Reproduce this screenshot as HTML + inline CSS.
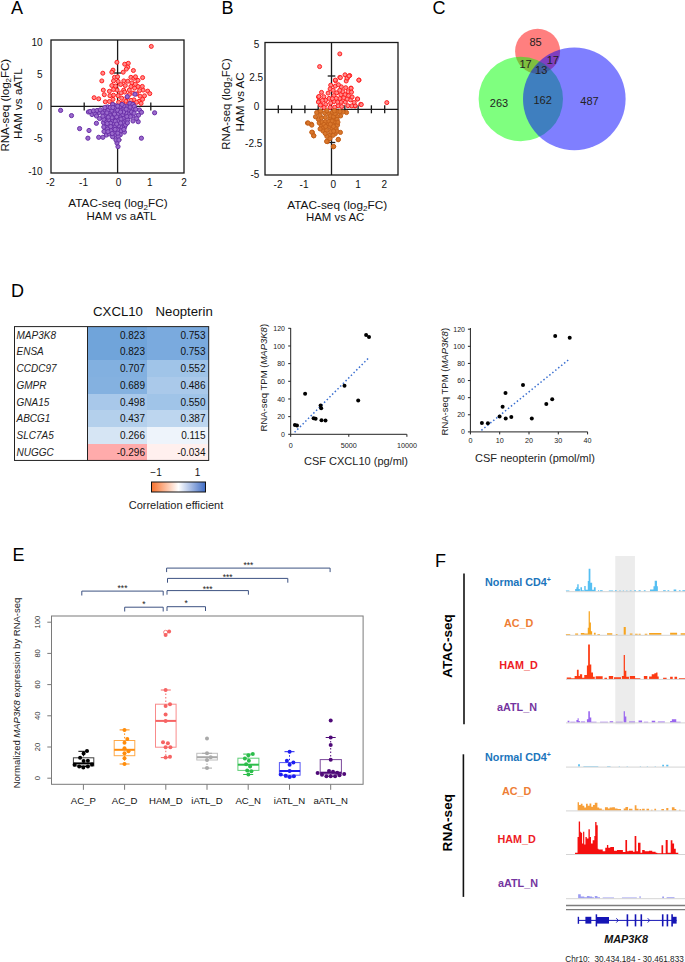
<!DOCTYPE html>
<html><head><meta charset="utf-8"><style>
html,body{margin:0;padding:0;background:#fff;width:685px;height:962px;overflow:hidden}
svg{display:block}
text{font-family:"Liberation Sans",sans-serif}
</style></head><body>
<svg width="685" height="962" viewBox="0 0 685 962">
<rect x="0" y="0" width="685" height="962" fill="#fff"/>
<text x="11.0" y="14.2" font-size="18" text-anchor="start" fill="#000" font-weight="normal" font-style="normal" >A</text>
<text x="221.5" y="13.8" font-size="18" text-anchor="start" fill="#000" font-weight="normal" font-style="normal" >B</text>
<text x="432.5" y="14.0" font-size="18" text-anchor="start" fill="#000" font-weight="normal" font-style="normal" >C</text>
<text x="11.0" y="297.0" font-size="18" text-anchor="start" fill="#000" font-weight="normal" font-style="normal" >D</text>
<text x="12.5" y="561.0" font-size="18" text-anchor="start" fill="#000" font-weight="normal" font-style="normal" >E</text>
<text x="435.0" y="566.8" font-size="18" text-anchor="start" fill="#000" font-weight="normal" font-style="normal" >F</text>
<rect x="51.00" y="40.00" width="133.00" height="133.00" fill="none" stroke="#1a1a1a" stroke-width="1.3" />
<line x1="117.60" y1="40.00" x2="117.60" y2="173.00" stroke="#1a1a1a" stroke-width="1.3" />
<line x1="51.00" y1="106.40" x2="184.00" y2="106.40" stroke="#1a1a1a" stroke-width="1.3" />
<line x1="84.20" y1="102.40" x2="84.20" y2="110.40" stroke="#1a1a1a" stroke-width="1.3" />
<line x1="150.80" y1="102.40" x2="150.80" y2="110.40" stroke="#1a1a1a" stroke-width="1.3" />
<line x1="113.80" y1="73.00" x2="121.40" y2="73.00" stroke="#1a1a1a" stroke-width="1.3" />
<line x1="113.80" y1="139.80" x2="121.40" y2="139.80" stroke="#1a1a1a" stroke-width="1.3" />
<circle cx="151.3" cy="46.4" r="2.0" fill="#ff8a8a" stroke="#ff1e1e" stroke-width="1.0"/>
<circle cx="116.9" cy="62.3" r="2.0" fill="#ff8a8a" stroke="#ff1e1e" stroke-width="1.0"/>
<circle cx="124.7" cy="64.2" r="2.0" fill="#ff8a8a" stroke="#ff1e1e" stroke-width="1.0"/>
<circle cx="128.3" cy="63.3" r="2.0" fill="#ff8a8a" stroke="#ff1e1e" stroke-width="1.0"/>
<circle cx="127.8" cy="67.1" r="2.0" fill="#ff8a8a" stroke="#ff1e1e" stroke-width="1.0"/>
<circle cx="126.3" cy="69.1" r="2.0" fill="#ff8a8a" stroke="#ff1e1e" stroke-width="1.0"/>
<circle cx="113.0" cy="70.1" r="2.0" fill="#ff8a8a" stroke="#ff1e1e" stroke-width="1.0"/>
<circle cx="111.8" cy="72.2" r="2.0" fill="#ff8a8a" stroke="#ff1e1e" stroke-width="1.0"/>
<circle cx="102.8" cy="73.2" r="2.0" fill="#ff8a8a" stroke="#ff1e1e" stroke-width="1.0"/>
<circle cx="123.2" cy="72.2" r="2.0" fill="#ff8a8a" stroke="#ff1e1e" stroke-width="1.0"/>
<circle cx="133.4" cy="70.5" r="2.0" fill="#ff8a8a" stroke="#ff1e1e" stroke-width="1.0"/>
<circle cx="114.5" cy="77.3" r="2.0" fill="#ff8a8a" stroke="#ff1e1e" stroke-width="1.0"/>
<circle cx="117.6" cy="76.8" r="2.0" fill="#ff8a8a" stroke="#ff1e1e" stroke-width="1.0"/>
<circle cx="113.5" cy="80.9" r="2.0" fill="#ff8a8a" stroke="#ff1e1e" stroke-width="1.0"/>
<circle cx="101.8" cy="80.9" r="2.0" fill="#ff8a8a" stroke="#ff1e1e" stroke-width="1.0"/>
<circle cx="118.1" cy="81.4" r="2.0" fill="#ff8a8a" stroke="#ff1e1e" stroke-width="1.0"/>
<circle cx="130.9" cy="77.3" r="2.0" fill="#ff8a8a" stroke="#ff1e1e" stroke-width="1.0"/>
<circle cx="133.9" cy="78.3" r="2.0" fill="#ff8a8a" stroke="#ff1e1e" stroke-width="1.0"/>
<circle cx="138.0" cy="80.4" r="2.0" fill="#ff8a8a" stroke="#ff1e1e" stroke-width="1.0"/>
<circle cx="142.6" cy="77.6" r="2.0" fill="#ff8a8a" stroke="#ff1e1e" stroke-width="1.0"/>
<circle cx="135.5" cy="76.8" r="2.0" fill="#ff8a8a" stroke="#ff1e1e" stroke-width="1.0"/>
<circle cx="120.7" cy="84.5" r="2.0" fill="#ff8a8a" stroke="#ff1e1e" stroke-width="1.0"/>
<circle cx="125.3" cy="85.5" r="2.0" fill="#ff8a8a" stroke="#ff1e1e" stroke-width="1.0"/>
<circle cx="131.9" cy="82.9" r="2.0" fill="#ff8a8a" stroke="#ff1e1e" stroke-width="1.0"/>
<circle cx="138.0" cy="86.5" r="2.0" fill="#ff8a8a" stroke="#ff1e1e" stroke-width="1.0"/>
<circle cx="130.9" cy="86.5" r="2.0" fill="#ff8a8a" stroke="#ff1e1e" stroke-width="1.0"/>
<circle cx="117.1" cy="90.1" r="2.0" fill="#ff8a8a" stroke="#ff1e1e" stroke-width="1.0"/>
<circle cx="123.7" cy="90.1" r="2.0" fill="#ff8a8a" stroke="#ff1e1e" stroke-width="1.0"/>
<circle cx="129.3" cy="90.1" r="2.0" fill="#ff8a8a" stroke="#ff1e1e" stroke-width="1.0"/>
<circle cx="103.3" cy="90.1" r="2.0" fill="#ff8a8a" stroke="#ff1e1e" stroke-width="1.0"/>
<circle cx="143.1" cy="90.1" r="2.0" fill="#ff8a8a" stroke="#ff1e1e" stroke-width="1.0"/>
<circle cx="147.7" cy="91.1" r="2.0" fill="#ff8a8a" stroke="#ff1e1e" stroke-width="1.0"/>
<circle cx="149.8" cy="93.6" r="2.0" fill="#ff8a8a" stroke="#ff1e1e" stroke-width="1.0"/>
<circle cx="104.3" cy="94.7" r="2.0" fill="#ff8a8a" stroke="#ff1e1e" stroke-width="1.0"/>
<circle cx="113.5" cy="95.2" r="2.0" fill="#ff8a8a" stroke="#ff1e1e" stroke-width="1.0"/>
<circle cx="109.9" cy="95.7" r="2.0" fill="#ff8a8a" stroke="#ff1e1e" stroke-width="1.0"/>
<circle cx="118.1" cy="95.7" r="2.0" fill="#ff8a8a" stroke="#ff1e1e" stroke-width="1.0"/>
<circle cx="124.7" cy="92.1" r="2.0" fill="#ff8a8a" stroke="#ff1e1e" stroke-width="1.0"/>
<circle cx="132.9" cy="93.1" r="2.0" fill="#ff8a8a" stroke="#ff1e1e" stroke-width="1.0"/>
<circle cx="140.1" cy="96.2" r="2.0" fill="#ff8a8a" stroke="#ff1e1e" stroke-width="1.0"/>
<circle cx="142.6" cy="99.3" r="2.0" fill="#ff8a8a" stroke="#ff1e1e" stroke-width="1.0"/>
<circle cx="94.1" cy="97.7" r="2.0" fill="#ff8a8a" stroke="#ff1e1e" stroke-width="1.0"/>
<circle cx="98.7" cy="98.8" r="2.0" fill="#ff8a8a" stroke="#ff1e1e" stroke-width="1.0"/>
<circle cx="105.3" cy="101.8" r="2.0" fill="#ff8a8a" stroke="#ff1e1e" stroke-width="1.0"/>
<circle cx="113.0" cy="99.3" r="2.0" fill="#ff8a8a" stroke="#ff1e1e" stroke-width="1.0"/>
<circle cx="121.7" cy="98.2" r="2.0" fill="#ff8a8a" stroke="#ff1e1e" stroke-width="1.0"/>
<circle cx="133.9" cy="99.8" r="2.0" fill="#ff8a8a" stroke="#ff1e1e" stroke-width="1.0"/>
<circle cx="139.0" cy="101.3" r="2.0" fill="#ff8a8a" stroke="#ff1e1e" stroke-width="1.0"/>
<circle cx="141.1" cy="103.4" r="2.0" fill="#ff8a8a" stroke="#ff1e1e" stroke-width="1.0"/>
<circle cx="112.5" cy="103.9" r="2.0" fill="#ff8a8a" stroke="#ff1e1e" stroke-width="1.0"/>
<circle cx="118.6" cy="102.3" r="2.0" fill="#ff8a8a" stroke="#ff1e1e" stroke-width="1.0"/>
<circle cx="125.8" cy="101.3" r="2.0" fill="#ff8a8a" stroke="#ff1e1e" stroke-width="1.0"/>
<circle cx="130.9" cy="100.3" r="2.0" fill="#ff8a8a" stroke="#ff1e1e" stroke-width="1.0"/>
<circle cx="136.5" cy="102.3" r="2.0" fill="#ff8a8a" stroke="#ff1e1e" stroke-width="1.0"/>
<circle cx="139.5" cy="90.6" r="2.0" fill="#ff8a8a" stroke="#ff1e1e" stroke-width="1.0"/>
<circle cx="126.9" cy="97.6" r="2.0" fill="#ff8a8a" stroke="#ff1e1e" stroke-width="1.0"/>
<circle cx="115.5" cy="86.0" r="2.0" fill="#ff8a8a" stroke="#ff1e1e" stroke-width="1.0"/>
<circle cx="133.0" cy="103.5" r="2.0" fill="#ff8a8a" stroke="#ff1e1e" stroke-width="1.0"/>
<circle cx="113.5" cy="89.5" r="2.0" fill="#ff8a8a" stroke="#ff1e1e" stroke-width="1.0"/>
<circle cx="122.6" cy="102.9" r="2.0" fill="#ff8a8a" stroke="#ff1e1e" stroke-width="1.0"/>
<circle cx="109.4" cy="91.3" r="2.0" fill="#ff8a8a" stroke="#ff1e1e" stroke-width="1.0"/>
<circle cx="134.6" cy="88.1" r="2.0" fill="#ff8a8a" stroke="#ff1e1e" stroke-width="1.0"/>
<circle cx="127.8" cy="81.2" r="2.0" fill="#ff8a8a" stroke="#ff1e1e" stroke-width="1.0"/>
<circle cx="144.5" cy="95.8" r="2.0" fill="#ff8a8a" stroke="#ff1e1e" stroke-width="1.0"/>
<circle cx="123.8" cy="80.9" r="2.0" fill="#ff8a8a" stroke="#ff1e1e" stroke-width="1.0"/>
<circle cx="136.5" cy="93.9" r="2.0" fill="#ff8a8a" stroke="#ff1e1e" stroke-width="1.0"/>
<circle cx="129.3" cy="94.5" r="2.0" fill="#ff8a8a" stroke="#ff1e1e" stroke-width="1.0"/>
<circle cx="109.4" cy="101.5" r="2.0" fill="#ff8a8a" stroke="#ff1e1e" stroke-width="1.0"/>
<circle cx="121.1" cy="92.9" r="2.0" fill="#ff8a8a" stroke="#ff1e1e" stroke-width="1.0"/>
<circle cx="111.8" cy="85.5" r="2.0" fill="#ff8a8a" stroke="#ff1e1e" stroke-width="1.0"/>
<circle cx="142.3" cy="86.4" r="2.0" fill="#ff8a8a" stroke="#ff1e1e" stroke-width="1.0"/>
<circle cx="135.3" cy="84.1" r="2.0" fill="#ff8a8a" stroke="#ff1e1e" stroke-width="1.0"/>
<circle cx="128.7" cy="103.6" r="2.0" fill="#ff8a8a" stroke="#ff1e1e" stroke-width="1.0"/>
<circle cx="135.0" cy="94.2" r="2.1" fill="#9a6acb" stroke="#6a30a8" stroke-width="1.0"/>
<circle cx="127.3" cy="96.7" r="2.1" fill="#9a6acb" stroke="#6a30a8" stroke-width="1.0"/>
<circle cx="129.9" cy="103.4" r="2.1" fill="#9a6acb" stroke="#6a30a8" stroke-width="1.0"/>
<circle cx="60.6" cy="110.4" r="2.1" fill="#9a6acb" stroke="#6a30a8" stroke-width="1.0"/>
<circle cx="71.5" cy="115.6" r="2.1" fill="#9a6acb" stroke="#6a30a8" stroke-width="1.0"/>
<circle cx="79.6" cy="128.6" r="2.1" fill="#9a6acb" stroke="#6a30a8" stroke-width="1.0"/>
<circle cx="89.0" cy="130.5" r="2.1" fill="#9a6acb" stroke="#6a30a8" stroke-width="1.0"/>
<circle cx="87.9" cy="138.2" r="2.1" fill="#9a6acb" stroke="#6a30a8" stroke-width="1.0"/>
<circle cx="96.4" cy="123.3" r="2.1" fill="#9a6acb" stroke="#6a30a8" stroke-width="1.0"/>
<circle cx="154.6" cy="112.8" r="2.1" fill="#9a6acb" stroke="#6a30a8" stroke-width="1.0"/>
<circle cx="138.2" cy="121.7" r="2.1" fill="#9a6acb" stroke="#6a30a8" stroke-width="1.0"/>
<circle cx="141.4" cy="138.2" r="2.1" fill="#9a6acb" stroke="#6a30a8" stroke-width="1.0"/>
<circle cx="124.4" cy="132.1" r="2.1" fill="#9a6acb" stroke="#6a30a8" stroke-width="1.0"/>
<circle cx="98.7" cy="137.3" r="2.1" fill="#9a6acb" stroke="#6a30a8" stroke-width="1.0"/>
<circle cx="102.9" cy="137.3" r="2.1" fill="#9a6acb" stroke="#6a30a8" stroke-width="1.0"/>
<circle cx="88.4" cy="112.0" r="2.1" fill="#9a6acb" stroke="#6a30a8" stroke-width="1.0"/>
<circle cx="92.0" cy="114.5" r="2.1" fill="#9a6acb" stroke="#6a30a8" stroke-width="1.0"/>
<circle cx="95.1" cy="113.7" r="2.1" fill="#9a6acb" stroke="#6a30a8" stroke-width="1.0"/>
<circle cx="99.2" cy="112.5" r="2.1" fill="#9a6acb" stroke="#6a30a8" stroke-width="1.0"/>
<circle cx="118.0" cy="146.6" r="2.1" fill="#9a6acb" stroke="#6a30a8" stroke-width="1.0"/>
<circle cx="117.0" cy="143.0" r="2.1" fill="#9a6acb" stroke="#6a30a8" stroke-width="1.0"/>
<circle cx="116.0" cy="140.0" r="2.1" fill="#9a6acb" stroke="#6a30a8" stroke-width="1.0"/>
<circle cx="90.0" cy="111.5" r="2.1" fill="#9a6acb" stroke="#6a30a8" stroke-width="1.0"/>
<circle cx="93.5" cy="110.8" r="2.1" fill="#9a6acb" stroke="#6a30a8" stroke-width="1.0"/>
<circle cx="97.0" cy="110.5" r="2.1" fill="#9a6acb" stroke="#6a30a8" stroke-width="1.0"/>
<circle cx="100.3" cy="109.8" r="2.1" fill="#9a6acb" stroke="#6a30a8" stroke-width="1.0"/>
<circle cx="96.5" cy="116.0" r="2.1" fill="#9a6acb" stroke="#6a30a8" stroke-width="1.0"/>
<circle cx="99.5" cy="118.5" r="2.1" fill="#9a6acb" stroke="#6a30a8" stroke-width="1.0"/>
<circle cx="139.5" cy="110.0" r="2.1" fill="#9a6acb" stroke="#6a30a8" stroke-width="1.0"/>
<circle cx="141.5" cy="112.3" r="2.1" fill="#9a6acb" stroke="#6a30a8" stroke-width="1.0"/>
<circle cx="138.5" cy="115.2" r="2.1" fill="#9a6acb" stroke="#6a30a8" stroke-width="1.0"/>
<circle cx="136.5" cy="118.5" r="2.1" fill="#9a6acb" stroke="#6a30a8" stroke-width="1.0"/>
<circle cx="133.0" cy="121.0" r="2.1" fill="#9a6acb" stroke="#6a30a8" stroke-width="1.0"/>
<circle cx="104.0" cy="131.5" r="2.1" fill="#9a6acb" stroke="#6a30a8" stroke-width="1.0"/>
<circle cx="106.5" cy="135.0" r="2.1" fill="#9a6acb" stroke="#6a30a8" stroke-width="1.0"/>
<circle cx="103.5" cy="122.6" r="2.1" fill="#9a6acb" stroke="#6a30a8" stroke-width="1.0"/>
<circle cx="133.1" cy="108.7" r="2.1" fill="#9a6acb" stroke="#6a30a8" stroke-width="1.0"/>
<circle cx="118.4" cy="114.0" r="2.1" fill="#9a6acb" stroke="#6a30a8" stroke-width="1.0"/>
<circle cx="121.0" cy="126.8" r="2.1" fill="#9a6acb" stroke="#6a30a8" stroke-width="1.0"/>
<circle cx="102.9" cy="112.8" r="2.1" fill="#9a6acb" stroke="#6a30a8" stroke-width="1.0"/>
<circle cx="128.5" cy="110.6" r="2.1" fill="#9a6acb" stroke="#6a30a8" stroke-width="1.0"/>
<circle cx="123.5" cy="109.3" r="2.1" fill="#9a6acb" stroke="#6a30a8" stroke-width="1.0"/>
<circle cx="109.6" cy="112.7" r="2.1" fill="#9a6acb" stroke="#6a30a8" stroke-width="1.0"/>
<circle cx="120.8" cy="130.9" r="2.1" fill="#9a6acb" stroke="#6a30a8" stroke-width="1.0"/>
<circle cx="132.9" cy="116.0" r="2.1" fill="#9a6acb" stroke="#6a30a8" stroke-width="1.0"/>
<circle cx="114.8" cy="110.8" r="2.1" fill="#9a6acb" stroke="#6a30a8" stroke-width="1.0"/>
<circle cx="107.5" cy="106.9" r="2.1" fill="#9a6acb" stroke="#6a30a8" stroke-width="1.0"/>
<circle cx="112.7" cy="127.9" r="2.1" fill="#9a6acb" stroke="#6a30a8" stroke-width="1.0"/>
<circle cx="114.0" cy="116.5" r="2.1" fill="#9a6acb" stroke="#6a30a8" stroke-width="1.0"/>
<circle cx="113.2" cy="123.2" r="2.1" fill="#9a6acb" stroke="#6a30a8" stroke-width="1.0"/>
<circle cx="126.5" cy="106.5" r="2.1" fill="#9a6acb" stroke="#6a30a8" stroke-width="1.0"/>
<circle cx="115.0" cy="127.0" r="2.1" fill="#9a6acb" stroke="#6a30a8" stroke-width="1.0"/>
<circle cx="109.2" cy="133.9" r="2.1" fill="#9a6acb" stroke="#6a30a8" stroke-width="1.0"/>
<circle cx="120.3" cy="134.7" r="2.1" fill="#9a6acb" stroke="#6a30a8" stroke-width="1.0"/>
<circle cx="105.6" cy="117.7" r="2.1" fill="#9a6acb" stroke="#6a30a8" stroke-width="1.0"/>
<circle cx="121.0" cy="116.5" r="2.1" fill="#9a6acb" stroke="#6a30a8" stroke-width="1.0"/>
<circle cx="105.2" cy="110.1" r="2.1" fill="#9a6acb" stroke="#6a30a8" stroke-width="1.0"/>
<circle cx="118.0" cy="120.8" r="2.1" fill="#9a6acb" stroke="#6a30a8" stroke-width="1.0"/>
<circle cx="106.1" cy="121.3" r="2.1" fill="#9a6acb" stroke="#6a30a8" stroke-width="1.0"/>
<circle cx="105.5" cy="115.0" r="2.1" fill="#9a6acb" stroke="#6a30a8" stroke-width="1.0"/>
<circle cx="114.8" cy="135.1" r="2.1" fill="#9a6acb" stroke="#6a30a8" stroke-width="1.0"/>
<circle cx="114.9" cy="131.9" r="2.1" fill="#9a6acb" stroke="#6a30a8" stroke-width="1.0"/>
<circle cx="124.6" cy="127.1" r="2.1" fill="#9a6acb" stroke="#6a30a8" stroke-width="1.0"/>
<circle cx="111.0" cy="130.6" r="2.1" fill="#9a6acb" stroke="#6a30a8" stroke-width="1.0"/>
<circle cx="118.2" cy="136.3" r="2.1" fill="#9a6acb" stroke="#6a30a8" stroke-width="1.0"/>
<circle cx="125.1" cy="120.8" r="2.1" fill="#9a6acb" stroke="#6a30a8" stroke-width="1.0"/>
<circle cx="117.5" cy="129.8" r="2.1" fill="#9a6acb" stroke="#6a30a8" stroke-width="1.0"/>
<circle cx="123.9" cy="105.9" r="2.1" fill="#9a6acb" stroke="#6a30a8" stroke-width="1.0"/>
<circle cx="112.0" cy="120.4" r="2.1" fill="#9a6acb" stroke="#6a30a8" stroke-width="1.0"/>
<circle cx="115.2" cy="105.7" r="2.1" fill="#9a6acb" stroke="#6a30a8" stroke-width="1.0"/>
<circle cx="123.2" cy="118.1" r="2.1" fill="#9a6acb" stroke="#6a30a8" stroke-width="1.0"/>
<circle cx="132.9" cy="104.3" r="2.1" fill="#9a6acb" stroke="#6a30a8" stroke-width="1.0"/>
<circle cx="106.2" cy="126.5" r="2.1" fill="#9a6acb" stroke="#6a30a8" stroke-width="1.0"/>
<circle cx="115.3" cy="121.2" r="2.1" fill="#9a6acb" stroke="#6a30a8" stroke-width="1.0"/>
<circle cx="110.2" cy="115.7" r="2.1" fill="#9a6acb" stroke="#6a30a8" stroke-width="1.0"/>
<circle cx="122.8" cy="114.5" r="2.1" fill="#9a6acb" stroke="#6a30a8" stroke-width="1.0"/>
<circle cx="116.6" cy="116.8" r="2.1" fill="#9a6acb" stroke="#6a30a8" stroke-width="1.0"/>
<circle cx="129.1" cy="113.9" r="2.1" fill="#9a6acb" stroke="#6a30a8" stroke-width="1.0"/>
<circle cx="111.6" cy="110.4" r="2.1" fill="#9a6acb" stroke="#6a30a8" stroke-width="1.0"/>
<circle cx="123.2" cy="122.9" r="2.1" fill="#9a6acb" stroke="#6a30a8" stroke-width="1.0"/>
<circle cx="118.9" cy="140.0" r="2.1" fill="#9a6acb" stroke="#6a30a8" stroke-width="1.0"/>
<circle cx="131.5" cy="112.0" r="2.1" fill="#9a6acb" stroke="#6a30a8" stroke-width="1.0"/>
<circle cx="112.6" cy="136.8" r="2.1" fill="#9a6acb" stroke="#6a30a8" stroke-width="1.0"/>
<circle cx="118.8" cy="125.8" r="2.1" fill="#9a6acb" stroke="#6a30a8" stroke-width="1.0"/>
<circle cx="130.1" cy="107.0" r="2.1" fill="#9a6acb" stroke="#6a30a8" stroke-width="1.0"/>
<circle cx="107.6" cy="129.0" r="2.1" fill="#9a6acb" stroke="#6a30a8" stroke-width="1.0"/>
<circle cx="120.1" cy="109.5" r="2.1" fill="#9a6acb" stroke="#6a30a8" stroke-width="1.0"/>
<circle cx="127.7" cy="119.8" r="2.1" fill="#9a6acb" stroke="#6a30a8" stroke-width="1.0"/>
<circle cx="107.8" cy="110.5" r="2.1" fill="#9a6acb" stroke="#6a30a8" stroke-width="1.0"/>
<circle cx="110.5" cy="123.2" r="2.1" fill="#9a6acb" stroke="#6a30a8" stroke-width="1.0"/>
<circle cx="110.3" cy="107.4" r="2.1" fill="#9a6acb" stroke="#6a30a8" stroke-width="1.0"/>
<circle cx="134.3" cy="106.4" r="2.1" fill="#9a6acb" stroke="#6a30a8" stroke-width="1.0"/>
<circle cx="130.4" cy="116.6" r="2.1" fill="#9a6acb" stroke="#6a30a8" stroke-width="1.0"/>
<circle cx="115.2" cy="108.2" r="2.1" fill="#9a6acb" stroke="#6a30a8" stroke-width="1.0"/>
<circle cx="114.5" cy="114.0" r="2.1" fill="#9a6acb" stroke="#6a30a8" stroke-width="1.0"/>
<circle cx="108.8" cy="119.6" r="2.1" fill="#9a6acb" stroke="#6a30a8" stroke-width="1.0"/>
<circle cx="125.6" cy="124.8" r="2.1" fill="#9a6acb" stroke="#6a30a8" stroke-width="1.0"/>
<circle cx="126.8" cy="116.3" r="2.1" fill="#9a6acb" stroke="#6a30a8" stroke-width="1.0"/>
<circle cx="121.0" cy="119.0" r="2.1" fill="#9a6acb" stroke="#6a30a8" stroke-width="1.0"/>
<circle cx="120.1" cy="106.4" r="2.1" fill="#9a6acb" stroke="#6a30a8" stroke-width="1.0"/>
<circle cx="110.7" cy="126.6" r="2.1" fill="#9a6acb" stroke="#6a30a8" stroke-width="1.0"/>
<circle cx="116.7" cy="124.1" r="2.1" fill="#9a6acb" stroke="#6a30a8" stroke-width="1.0"/>
<circle cx="103.8" cy="119.4" r="2.1" fill="#9a6acb" stroke="#6a30a8" stroke-width="1.0"/>
<circle cx="117.8" cy="133.2" r="2.1" fill="#9a6acb" stroke="#6a30a8" stroke-width="1.0"/>
<circle cx="112.7" cy="104.4" r="2.1" fill="#9a6acb" stroke="#6a30a8" stroke-width="1.0"/>
<circle cx="107.2" cy="123.6" r="2.1" fill="#9a6acb" stroke="#6a30a8" stroke-width="1.0"/>
<circle cx="123.9" cy="129.4" r="2.1" fill="#9a6acb" stroke="#6a30a8" stroke-width="1.0"/>
<circle cx="112.2" cy="133.5" r="2.1" fill="#9a6acb" stroke="#6a30a8" stroke-width="1.0"/>
<circle cx="108.0" cy="131.7" r="2.1" fill="#9a6acb" stroke="#6a30a8" stroke-width="1.0"/>
<circle cx="135.7" cy="109.3" r="2.1" fill="#9a6acb" stroke="#6a30a8" stroke-width="1.0"/>
<circle cx="120.7" cy="123.1" r="2.1" fill="#9a6acb" stroke="#6a30a8" stroke-width="1.0"/>
<circle cx="125.9" cy="112.8" r="2.1" fill="#9a6acb" stroke="#6a30a8" stroke-width="1.0"/>
<circle cx="117.6" cy="110.2" r="2.1" fill="#9a6acb" stroke="#6a30a8" stroke-width="1.0"/>
<circle cx="102.9" cy="116.2" r="2.1" fill="#9a6acb" stroke="#6a30a8" stroke-width="1.0"/>
<circle cx="112.9" cy="107.5" r="2.1" fill="#9a6acb" stroke="#6a30a8" stroke-width="1.0"/>
<circle cx="104.8" cy="107.6" r="2.1" fill="#9a6acb" stroke="#6a30a8" stroke-width="1.0"/>
<circle cx="134.1" cy="113.2" r="2.1" fill="#9a6acb" stroke="#6a30a8" stroke-width="1.0"/>
<circle cx="112.0" cy="117.8" r="2.1" fill="#9a6acb" stroke="#6a30a8" stroke-width="1.0"/>
<circle cx="122.0" cy="104.4" r="2.1" fill="#9a6acb" stroke="#6a30a8" stroke-width="1.0"/>
<circle cx="123.6" cy="112.0" r="2.1" fill="#9a6acb" stroke="#6a30a8" stroke-width="1.0"/>
<circle cx="103.8" cy="127.0" r="2.1" fill="#9a6acb" stroke="#6a30a8" stroke-width="1.0"/>
<circle cx="120.6" cy="112.0" r="2.1" fill="#9a6acb" stroke="#6a30a8" stroke-width="1.0"/>
<circle cx="117.7" cy="106.1" r="2.1" fill="#9a6acb" stroke="#6a30a8" stroke-width="1.0"/>
<circle cx="108.2" cy="117.1" r="2.1" fill="#9a6acb" stroke="#6a30a8" stroke-width="1.0"/>
<circle cx="127.4" cy="122.9" r="2.1" fill="#9a6acb" stroke="#6a30a8" stroke-width="1.0"/>
<circle cx="106.9" cy="112.9" r="2.1" fill="#9a6acb" stroke="#6a30a8" stroke-width="1.0"/>
<circle cx="126.2" cy="109.2" r="2.1" fill="#9a6acb" stroke="#6a30a8" stroke-width="1.0"/>
<circle cx="115.1" cy="129.4" r="2.1" fill="#9a6acb" stroke="#6a30a8" stroke-width="1.0"/>
<text x="42.6" y="46.1" font-size="10" text-anchor="end" fill="#111" font-weight="normal" font-style="normal" >10</text>
<text x="42.6" y="78.0" font-size="10" text-anchor="end" fill="#111" font-weight="normal" font-style="normal" >5</text>
<text x="42.6" y="109.6" font-size="10" text-anchor="end" fill="#111" font-weight="normal" font-style="normal" >0</text>
<text x="42.6" y="141.9" font-size="10" text-anchor="end" fill="#111" font-weight="normal" font-style="normal" >-5</text>
<text x="42.6" y="174.6" font-size="10" text-anchor="end" fill="#111" font-weight="normal" font-style="normal" >-10</text>
<text x="50.4" y="186.0" font-size="10" text-anchor="middle" fill="#111" font-weight="normal" font-style="normal" >-2</text>
<text x="83.5" y="186.0" font-size="10" text-anchor="middle" fill="#111" font-weight="normal" font-style="normal" >-1</text>
<text x="118.5" y="186.0" font-size="10" text-anchor="middle" fill="#111" font-weight="normal" font-style="normal" >0</text>
<text x="149.8" y="186.0" font-size="10" text-anchor="middle" fill="#111" font-weight="normal" font-style="normal" >1</text>
<text x="184.0" y="186.0" font-size="10" text-anchor="middle" fill="#111" font-weight="normal" font-style="normal" >2</text>
<text x="118.0" y="207.4" font-size="11" text-anchor="middle" fill="#111" textLength="99.3" lengthAdjust="spacingAndGlyphs">ATAC-seq (log<tspan font-size="7.5" dy="2.5">2</tspan><tspan dy="-2.5">FC)</tspan></text>
<text x="121.5" y="219.7" font-size="11" text-anchor="middle" fill="#111" textLength="69.8" lengthAdjust="spacingAndGlyphs">HAM vs aATL</text>
<g transform="translate(8.8,105.2) rotate(-90)">
<text x="0.0" y="0.0" font-size="11" text-anchor="middle" fill="#111" textLength="92.8" lengthAdjust="spacingAndGlyphs">RNA-seq (log<tspan font-size="7.5" dy="2.5">2</tspan><tspan dy="-2.5">FC)</tspan></text>
</g>
<g transform="translate(21.8,103.6) rotate(-90)">
<text x="0.0" y="0.0" font-size="11" text-anchor="middle" fill="#111" textLength="70.8" lengthAdjust="spacingAndGlyphs">HAM vs aATL</text>
</g>
<rect x="265.00" y="42.50" width="133.00" height="132.50" fill="none" stroke="#1a1a1a" stroke-width="1.3" />
<line x1="331.50" y1="42.50" x2="331.50" y2="175.00" stroke="#1a1a1a" stroke-width="1.3" />
<line x1="265.00" y1="109.30" x2="398.00" y2="109.30" stroke="#1a1a1a" stroke-width="1.3" />
<line x1="278.30" y1="105.30" x2="278.30" y2="113.30" stroke="#1a1a1a" stroke-width="1.3" />
<line x1="291.60" y1="105.30" x2="291.60" y2="113.30" stroke="#1a1a1a" stroke-width="1.3" />
<line x1="304.90" y1="105.30" x2="304.90" y2="113.30" stroke="#1a1a1a" stroke-width="1.3" />
<line x1="318.20" y1="105.30" x2="318.20" y2="113.30" stroke="#1a1a1a" stroke-width="1.3" />
<line x1="344.80" y1="105.30" x2="344.80" y2="113.30" stroke="#1a1a1a" stroke-width="1.3" />
<line x1="358.10" y1="105.30" x2="358.10" y2="113.30" stroke="#1a1a1a" stroke-width="1.3" />
<line x1="371.40" y1="105.30" x2="371.40" y2="113.30" stroke="#1a1a1a" stroke-width="1.3" />
<line x1="384.70" y1="105.30" x2="384.70" y2="113.30" stroke="#1a1a1a" stroke-width="1.3" />
<line x1="327.70" y1="76.00" x2="335.30" y2="76.00" stroke="#1a1a1a" stroke-width="1.3" />
<line x1="327.70" y1="142.50" x2="335.30" y2="142.50" stroke="#1a1a1a" stroke-width="1.3" />
<circle cx="339.8" cy="53.9" r="2.0" fill="#ff8a8a" stroke="#ff1e1e" stroke-width="1.0"/>
<circle cx="319.6" cy="66.6" r="2.0" fill="#ff8a8a" stroke="#ff1e1e" stroke-width="1.0"/>
<circle cx="386.8" cy="102.6" r="2.0" fill="#ff8a8a" stroke="#ff1e1e" stroke-width="1.0"/>
<circle cx="359.0" cy="80.1" r="2.0" fill="#ff8a8a" stroke="#ff1e1e" stroke-width="1.0"/>
<circle cx="345.0" cy="74.8" r="2.0" fill="#ff8a8a" stroke="#ff1e1e" stroke-width="1.0"/>
<circle cx="349.7" cy="75.5" r="2.0" fill="#ff8a8a" stroke="#ff1e1e" stroke-width="1.0"/>
<circle cx="347.4" cy="78.3" r="2.0" fill="#ff8a8a" stroke="#ff1e1e" stroke-width="1.0"/>
<circle cx="346.2" cy="81.0" r="2.0" fill="#ff8a8a" stroke="#ff1e1e" stroke-width="1.0"/>
<circle cx="339.8" cy="77.4" r="2.0" fill="#ff8a8a" stroke="#ff1e1e" stroke-width="1.0"/>
<circle cx="335.5" cy="80.6" r="2.0" fill="#ff8a8a" stroke="#ff1e1e" stroke-width="1.0"/>
<circle cx="350.9" cy="88.1" r="2.0" fill="#ff8a8a" stroke="#ff1e1e" stroke-width="1.0"/>
<circle cx="357.3" cy="99.0" r="2.0" fill="#ff8a8a" stroke="#ff1e1e" stroke-width="1.0"/>
<circle cx="360.8" cy="104.3" r="2.0" fill="#ff8a8a" stroke="#ff1e1e" stroke-width="1.0"/>
<circle cx="355.0" cy="106.0" r="2.0" fill="#ff8a8a" stroke="#ff1e1e" stroke-width="1.0"/>
<circle cx="319.0" cy="101.0" r="2.0" fill="#ff8a8a" stroke="#ff1e1e" stroke-width="1.0"/>
<circle cx="321.0" cy="105.0" r="2.0" fill="#ff8a8a" stroke="#ff1e1e" stroke-width="1.0"/>
<circle cx="318.5" cy="97.0" r="2.0" fill="#ff8a8a" stroke="#ff1e1e" stroke-width="1.0"/>
<circle cx="330.7" cy="85.2" r="2.0" fill="#ff8a8a" stroke="#ff1e1e" stroke-width="1.0"/>
<circle cx="335.3" cy="80.1" r="2.0" fill="#ff8a8a" stroke="#ff1e1e" stroke-width="1.0"/>
<circle cx="340.4" cy="77.6" r="2.0" fill="#ff8a8a" stroke="#ff1e1e" stroke-width="1.0"/>
<circle cx="347.0" cy="78.1" r="2.0" fill="#ff8a8a" stroke="#ff1e1e" stroke-width="1.0"/>
<circle cx="349.0" cy="76.0" r="2.0" fill="#ff8a8a" stroke="#ff1e1e" stroke-width="1.0"/>
<circle cx="358.8" cy="80.1" r="2.0" fill="#ff8a8a" stroke="#ff1e1e" stroke-width="1.0"/>
<circle cx="351.1" cy="88.3" r="2.0" fill="#ff8a8a" stroke="#ff1e1e" stroke-width="1.0"/>
<circle cx="321.5" cy="92.4" r="2.0" fill="#ff8a8a" stroke="#ff1e1e" stroke-width="1.0"/>
<circle cx="318.9" cy="96.5" r="2.0" fill="#ff8a8a" stroke="#ff1e1e" stroke-width="1.0"/>
<circle cx="318.4" cy="102.1" r="2.0" fill="#ff8a8a" stroke="#ff1e1e" stroke-width="1.0"/>
<circle cx="320.4" cy="105.1" r="2.0" fill="#ff8a8a" stroke="#ff1e1e" stroke-width="1.0"/>
<circle cx="357.7" cy="99.0" r="2.0" fill="#ff8a8a" stroke="#ff1e1e" stroke-width="1.0"/>
<circle cx="361.3" cy="104.6" r="2.0" fill="#ff8a8a" stroke="#ff1e1e" stroke-width="1.0"/>
<circle cx="355.2" cy="105.7" r="2.0" fill="#ff8a8a" stroke="#ff1e1e" stroke-width="1.0"/>
<circle cx="336.7" cy="92.8" r="2.0" fill="#ff8a8a" stroke="#ff1e1e" stroke-width="1.0"/>
<circle cx="325.7" cy="104.4" r="2.0" fill="#ff8a8a" stroke="#ff1e1e" stroke-width="1.0"/>
<circle cx="339.8" cy="98.5" r="2.0" fill="#ff8a8a" stroke="#ff1e1e" stroke-width="1.0"/>
<circle cx="344.9" cy="94.6" r="2.0" fill="#ff8a8a" stroke="#ff1e1e" stroke-width="1.0"/>
<circle cx="345.7" cy="87.7" r="2.0" fill="#ff8a8a" stroke="#ff1e1e" stroke-width="1.0"/>
<circle cx="338.2" cy="105.7" r="2.0" fill="#ff8a8a" stroke="#ff1e1e" stroke-width="1.0"/>
<circle cx="341.1" cy="102.2" r="2.0" fill="#ff8a8a" stroke="#ff1e1e" stroke-width="1.0"/>
<circle cx="334.0" cy="101.5" r="2.0" fill="#ff8a8a" stroke="#ff1e1e" stroke-width="1.0"/>
<circle cx="335.3" cy="86.1" r="2.0" fill="#ff8a8a" stroke="#ff1e1e" stroke-width="1.0"/>
<circle cx="330.1" cy="88.9" r="2.0" fill="#ff8a8a" stroke="#ff1e1e" stroke-width="1.0"/>
<circle cx="330.6" cy="103.0" r="2.0" fill="#ff8a8a" stroke="#ff1e1e" stroke-width="1.0"/>
<circle cx="333.9" cy="95.6" r="2.0" fill="#ff8a8a" stroke="#ff1e1e" stroke-width="1.0"/>
<circle cx="341.3" cy="86.8" r="2.0" fill="#ff8a8a" stroke="#ff1e1e" stroke-width="1.0"/>
<circle cx="323.8" cy="96.7" r="2.0" fill="#ff8a8a" stroke="#ff1e1e" stroke-width="1.0"/>
<circle cx="341.7" cy="106.5" r="2.0" fill="#ff8a8a" stroke="#ff1e1e" stroke-width="1.0"/>
<circle cx="330.1" cy="107.4" r="2.0" fill="#ff8a8a" stroke="#ff1e1e" stroke-width="1.0"/>
<circle cx="329.1" cy="98.4" r="2.0" fill="#ff8a8a" stroke="#ff1e1e" stroke-width="1.0"/>
<circle cx="343.9" cy="97.9" r="2.0" fill="#ff8a8a" stroke="#ff1e1e" stroke-width="1.0"/>
<circle cx="340.9" cy="94.6" r="2.0" fill="#ff8a8a" stroke="#ff1e1e" stroke-width="1.0"/>
<circle cx="334.7" cy="107.2" r="2.0" fill="#ff8a8a" stroke="#ff1e1e" stroke-width="1.0"/>
<circle cx="348.2" cy="91.7" r="2.0" fill="#ff8a8a" stroke="#ff1e1e" stroke-width="1.0"/>
<circle cx="348.5" cy="95.7" r="2.0" fill="#ff8a8a" stroke="#ff1e1e" stroke-width="1.0"/>
<circle cx="328.1" cy="93.1" r="2.0" fill="#ff8a8a" stroke="#ff1e1e" stroke-width="1.0"/>
<circle cx="345.3" cy="102.1" r="2.0" fill="#ff8a8a" stroke="#ff1e1e" stroke-width="1.0"/>
<circle cx="354.2" cy="102.5" r="2.0" fill="#ff8a8a" stroke="#ff1e1e" stroke-width="1.0"/>
<circle cx="351.7" cy="105.9" r="2.0" fill="#ff8a8a" stroke="#ff1e1e" stroke-width="1.0"/>
<circle cx="336.2" cy="98.3" r="2.0" fill="#ff8a8a" stroke="#ff1e1e" stroke-width="1.0"/>
<circle cx="325.6" cy="100.2" r="2.0" fill="#ff8a8a" stroke="#ff1e1e" stroke-width="1.0"/>
<circle cx="333.2" cy="90.3" r="2.0" fill="#ff8a8a" stroke="#ff1e1e" stroke-width="1.0"/>
<circle cx="350.4" cy="99.9" r="2.0" fill="#ff8a8a" stroke="#ff1e1e" stroke-width="1.0"/>
<circle cx="347.9" cy="105.7" r="2.0" fill="#ff8a8a" stroke="#ff1e1e" stroke-width="1.0"/>
<circle cx="342.7" cy="91.6" r="2.0" fill="#ff8a8a" stroke="#ff1e1e" stroke-width="1.0"/>
<circle cx="352.1" cy="97.0" r="2.0" fill="#ff8a8a" stroke="#ff1e1e" stroke-width="1.0"/>
<circle cx="351.5" cy="92.2" r="2.0" fill="#ff8a8a" stroke="#ff1e1e" stroke-width="1.0"/>
<circle cx="339.7" cy="90.3" r="2.0" fill="#ff8a8a" stroke="#ff1e1e" stroke-width="1.0"/>
<circle cx="332.4" cy="98.6" r="2.0" fill="#ff8a8a" stroke="#ff1e1e" stroke-width="1.0"/>
<circle cx="338.4" cy="84.7" r="2.0" fill="#ff8a8a" stroke="#ff1e1e" stroke-width="1.0"/>
<circle cx="324.1" cy="107.5" r="2.0" fill="#ff8a8a" stroke="#ff1e1e" stroke-width="1.0"/>
<circle cx="337.7" cy="102.1" r="2.0" fill="#ff8a8a" stroke="#ff1e1e" stroke-width="1.0"/>
<circle cx="322.3" cy="100.4" r="2.0" fill="#ff8a8a" stroke="#ff1e1e" stroke-width="1.0"/>
<circle cx="347.1" cy="99.1" r="2.0" fill="#ff8a8a" stroke="#ff1e1e" stroke-width="1.0"/>
<circle cx="307.5" cy="123.0" r="2.1" fill="#d9772b" stroke="#c4601a" stroke-width="1.0"/>
<circle cx="311.5" cy="124.3" r="2.1" fill="#d9772b" stroke="#c4601a" stroke-width="1.0"/>
<circle cx="312.4" cy="132.4" r="2.1" fill="#d9772b" stroke="#c4601a" stroke-width="1.0"/>
<circle cx="313.7" cy="135.7" r="2.1" fill="#d9772b" stroke="#c4601a" stroke-width="1.0"/>
<circle cx="327.3" cy="141.6" r="2.1" fill="#d9772b" stroke="#c4601a" stroke-width="1.0"/>
<circle cx="338.2" cy="139.7" r="2.1" fill="#d9772b" stroke="#c4601a" stroke-width="1.0"/>
<circle cx="333.4" cy="146.7" r="2.1" fill="#d9772b" stroke="#c4601a" stroke-width="1.0"/>
<circle cx="340.4" cy="132.4" r="2.1" fill="#d9772b" stroke="#c4601a" stroke-width="1.0"/>
<circle cx="346.5" cy="112.5" r="2.1" fill="#d9772b" stroke="#c4601a" stroke-width="1.0"/>
<circle cx="308.2" cy="123.0" r="2.1" fill="#d9772b" stroke="#c4601a" stroke-width="1.0"/>
<circle cx="311.8" cy="125.1" r="2.1" fill="#d9772b" stroke="#c4601a" stroke-width="1.0"/>
<circle cx="311.8" cy="132.2" r="2.1" fill="#d9772b" stroke="#c4601a" stroke-width="1.0"/>
<circle cx="313.8" cy="135.8" r="2.1" fill="#d9772b" stroke="#c4601a" stroke-width="1.0"/>
<circle cx="338.3" cy="139.4" r="2.1" fill="#d9772b" stroke="#c4601a" stroke-width="1.0"/>
<circle cx="333.7" cy="146.5" r="2.1" fill="#d9772b" stroke="#c4601a" stroke-width="1.0"/>
<circle cx="326.6" cy="141.4" r="2.1" fill="#d9772b" stroke="#c4601a" stroke-width="1.0"/>
<circle cx="329.7" cy="126.9" r="2.1" fill="#d9772b" stroke="#c4601a" stroke-width="1.0"/>
<circle cx="321.3" cy="125.5" r="2.1" fill="#d9772b" stroke="#c4601a" stroke-width="1.0"/>
<circle cx="335.3" cy="133.6" r="2.1" fill="#d9772b" stroke="#c4601a" stroke-width="1.0"/>
<circle cx="318.5" cy="119.5" r="2.1" fill="#d9772b" stroke="#c4601a" stroke-width="1.0"/>
<circle cx="337.3" cy="112.0" r="2.1" fill="#d9772b" stroke="#c4601a" stroke-width="1.0"/>
<circle cx="336.1" cy="128.5" r="2.1" fill="#d9772b" stroke="#c4601a" stroke-width="1.0"/>
<circle cx="320.5" cy="111.2" r="2.1" fill="#d9772b" stroke="#c4601a" stroke-width="1.0"/>
<circle cx="332.1" cy="112.5" r="2.1" fill="#d9772b" stroke="#c4601a" stroke-width="1.0"/>
<circle cx="321.5" cy="117.7" r="2.1" fill="#d9772b" stroke="#c4601a" stroke-width="1.0"/>
<circle cx="329.4" cy="135.0" r="2.1" fill="#d9772b" stroke="#c4601a" stroke-width="1.0"/>
<circle cx="331.9" cy="129.2" r="2.1" fill="#d9772b" stroke="#c4601a" stroke-width="1.0"/>
<circle cx="329.9" cy="118.8" r="2.1" fill="#d9772b" stroke="#c4601a" stroke-width="1.0"/>
<circle cx="325.4" cy="117.4" r="2.1" fill="#d9772b" stroke="#c4601a" stroke-width="1.0"/>
<circle cx="324.6" cy="112.8" r="2.1" fill="#d9772b" stroke="#c4601a" stroke-width="1.0"/>
<circle cx="315.5" cy="116.8" r="2.1" fill="#d9772b" stroke="#c4601a" stroke-width="1.0"/>
<circle cx="340.6" cy="115.9" r="2.1" fill="#d9772b" stroke="#c4601a" stroke-width="1.0"/>
<circle cx="333.1" cy="123.6" r="2.1" fill="#d9772b" stroke="#c4601a" stroke-width="1.0"/>
<circle cx="319.2" cy="122.9" r="2.1" fill="#d9772b" stroke="#c4601a" stroke-width="1.0"/>
<circle cx="322.1" cy="122.1" r="2.1" fill="#d9772b" stroke="#c4601a" stroke-width="1.0"/>
<circle cx="323.2" cy="128.1" r="2.1" fill="#d9772b" stroke="#c4601a" stroke-width="1.0"/>
<circle cx="327.2" cy="123.8" r="2.1" fill="#d9772b" stroke="#c4601a" stroke-width="1.0"/>
<circle cx="328.8" cy="113.8" r="2.1" fill="#d9772b" stroke="#c4601a" stroke-width="1.0"/>
<circle cx="323.0" cy="131.0" r="2.1" fill="#d9772b" stroke="#c4601a" stroke-width="1.0"/>
<circle cx="334.3" cy="119.2" r="2.1" fill="#d9772b" stroke="#c4601a" stroke-width="1.0"/>
<circle cx="333.1" cy="135.3" r="2.1" fill="#d9772b" stroke="#c4601a" stroke-width="1.0"/>
<circle cx="326.9" cy="136.4" r="2.1" fill="#d9772b" stroke="#c4601a" stroke-width="1.0"/>
<circle cx="330.7" cy="131.8" r="2.1" fill="#d9772b" stroke="#c4601a" stroke-width="1.0"/>
<circle cx="326.6" cy="130.5" r="2.1" fill="#d9772b" stroke="#c4601a" stroke-width="1.0"/>
<circle cx="335.2" cy="121.8" r="2.1" fill="#d9772b" stroke="#c4601a" stroke-width="1.0"/>
<circle cx="337.5" cy="125.1" r="2.1" fill="#d9772b" stroke="#c4601a" stroke-width="1.0"/>
<circle cx="343.0" cy="112.0" r="2.1" fill="#d9772b" stroke="#c4601a" stroke-width="1.0"/>
<circle cx="325.2" cy="133.5" r="2.1" fill="#d9772b" stroke="#c4601a" stroke-width="1.0"/>
<circle cx="337.1" cy="116.5" r="2.1" fill="#d9772b" stroke="#c4601a" stroke-width="1.0"/>
<circle cx="330.5" cy="115.9" r="2.1" fill="#d9772b" stroke="#c4601a" stroke-width="1.0"/>
<circle cx="319.9" cy="115.1" r="2.1" fill="#d9772b" stroke="#c4601a" stroke-width="1.0"/>
<circle cx="325.3" cy="121.7" r="2.1" fill="#d9772b" stroke="#c4601a" stroke-width="1.0"/>
<circle cx="333.5" cy="116.6" r="2.1" fill="#d9772b" stroke="#c4601a" stroke-width="1.0"/>
<circle cx="324.0" cy="124.4" r="2.1" fill="#d9772b" stroke="#c4601a" stroke-width="1.0"/>
<circle cx="340.0" cy="111.5" r="2.1" fill="#d9772b" stroke="#c4601a" stroke-width="1.0"/>
<circle cx="316.7" cy="112.5" r="2.1" fill="#d9772b" stroke="#c4601a" stroke-width="1.0"/>
<circle cx="335.1" cy="113.7" r="2.1" fill="#d9772b" stroke="#c4601a" stroke-width="1.0"/>
<circle cx="325.7" cy="126.5" r="2.1" fill="#d9772b" stroke="#c4601a" stroke-width="1.0"/>
<circle cx="329.0" cy="121.4" r="2.1" fill="#d9772b" stroke="#c4601a" stroke-width="1.0"/>
<circle cx="337.1" cy="119.4" r="2.1" fill="#d9772b" stroke="#c4601a" stroke-width="1.0"/>
<circle cx="330.0" cy="138.6" r="2.1" fill="#d9772b" stroke="#c4601a" stroke-width="1.0"/>
<circle cx="336.8" cy="131.1" r="2.1" fill="#d9772b" stroke="#c4601a" stroke-width="1.0"/>
<circle cx="333.4" cy="126.4" r="2.1" fill="#d9772b" stroke="#c4601a" stroke-width="1.0"/>
<circle cx="320.1" cy="128.9" r="2.1" fill="#d9772b" stroke="#c4601a" stroke-width="1.0"/>
<circle cx="332.1" cy="121.0" r="2.1" fill="#d9772b" stroke="#c4601a" stroke-width="1.0"/>
<circle cx="326.9" cy="110.9" r="2.1" fill="#d9772b" stroke="#c4601a" stroke-width="1.0"/>
<circle cx="330.3" cy="124.2" r="2.1" fill="#d9772b" stroke="#c4601a" stroke-width="1.0"/>
<circle cx="333.7" cy="131.2" r="2.1" fill="#d9772b" stroke="#c4601a" stroke-width="1.0"/>
<circle cx="334.3" cy="110.9" r="2.1" fill="#d9772b" stroke="#c4601a" stroke-width="1.0"/>
<circle cx="337.9" cy="122.2" r="2.1" fill="#d9772b" stroke="#c4601a" stroke-width="1.0"/>
<text x="259.3" y="48.0" font-size="10" text-anchor="end" fill="#111" font-weight="normal" font-style="normal" >5</text>
<text x="263.1" y="80.9" font-size="10" text-anchor="end" fill="#111" font-weight="normal" font-style="normal" >2.5</text>
<text x="259.3" y="110.2" font-size="10" text-anchor="end" fill="#111" font-weight="normal" font-style="normal" >0</text>
<text x="262.3" y="146.9" font-size="10" text-anchor="end" fill="#111" font-weight="normal" font-style="normal" >-2.5</text>
<text x="259.3" y="177.5" font-size="10" text-anchor="end" fill="#111" font-weight="normal" font-style="normal" >-5</text>
<text x="278.0" y="188.0" font-size="10" text-anchor="middle" fill="#111" font-weight="normal" font-style="normal" >-2</text>
<text x="304.0" y="188.0" font-size="10" text-anchor="middle" fill="#111" font-weight="normal" font-style="normal" >-1</text>
<text x="333.2" y="188.0" font-size="10" text-anchor="middle" fill="#111" font-weight="normal" font-style="normal" >0</text>
<text x="358.1" y="188.0" font-size="10" text-anchor="middle" fill="#111" font-weight="normal" font-style="normal" >1</text>
<text x="384.3" y="188.0" font-size="10" text-anchor="middle" fill="#111" font-weight="normal" font-style="normal" >2</text>
<text x="337.2" y="208.5" font-size="11" text-anchor="middle" fill="#111" textLength="99.9" lengthAdjust="spacingAndGlyphs">ATAC-seq (log<tspan font-size="7.5" dy="2.5">2</tspan><tspan dy="-2.5">FC)</tspan></text>
<text x="335.1" y="221.2" font-size="11" text-anchor="middle" fill="#111" textLength="58.2" lengthAdjust="spacingAndGlyphs">HAM vs AC</text>
<g transform="translate(229.6,104) rotate(-90)">
<text x="0.0" y="0.0" font-size="11" text-anchor="middle" fill="#111" textLength="91.4" lengthAdjust="spacingAndGlyphs">RNA-seq (log<tspan font-size="7.5" dy="2.5">2</tspan><tspan dy="-2.5">FC)</tspan></text>
</g>
<g transform="translate(244,101.9) rotate(-90)">
<text x="0.0" y="0.0" font-size="11" text-anchor="middle" fill="#111" textLength="59" lengthAdjust="spacingAndGlyphs">HAM vs AC</text>
</g>
<g>
<circle cx="537.6" cy="51.2" r="22.5" fill="rgba(255,0,0,0.5)" stroke="none" stroke-width="0"/>
<circle cx="520.8" cy="99.0" r="42.2" fill="rgba(0,255,0,0.5)" stroke="none" stroke-width="0"/>
<circle cx="574.3" cy="98.9" r="51.3" fill="rgba(0,0,255,0.5)" stroke="none" stroke-width="0"/>
</g>
<text x="535.6" y="45.7" font-size="11" text-anchor="middle" fill="#222" font-weight="normal" font-style="normal" >85</text>
<text x="525.5" y="67.9" font-size="11" text-anchor="middle" fill="#222" font-weight="normal" font-style="normal" >17</text>
<text x="552.8" y="64.1" font-size="11" text-anchor="middle" fill="#222" font-weight="normal" font-style="normal" >17</text>
<text x="541.2" y="73.5" font-size="11" text-anchor="middle" fill="#222" font-weight="normal" font-style="normal" >13</text>
<text x="499.0" y="106.5" font-size="11" text-anchor="middle" fill="#222" font-weight="normal" font-style="normal" >263</text>
<text x="542.6" y="104.0" font-size="11" text-anchor="middle" fill="#222" font-weight="normal" font-style="normal" >162</text>
<text x="589.5" y="104.8" font-size="11" text-anchor="middle" fill="#222" font-weight="normal" font-style="normal" >487</text>
<text x="118.0" y="315.8" font-size="13.2" text-anchor="middle" fill="#111" font-weight="normal" font-style="normal" >CXCL10</text>
<text x="184.2" y="315.8" font-size="13.2" text-anchor="middle" fill="#111" font-weight="normal" font-style="normal" >Neopterin</text>
<rect x="87.50" y="326.60" width="60.20" height="17.33" fill="#70a4da" stroke="none" stroke-width="1" shape-rendering="crispEdges"/>
<rect x="147.20" y="326.60" width="61.50" height="17.33" fill="#7aaade" stroke="none" stroke-width="1" shape-rendering="crispEdges"/>
<text x="16.5" y="338.6" font-size="10" text-anchor="start" fill="#222" font-weight="normal" font-style="italic" >MAP3K8</text>
<text x="145.0" y="338.6" font-size="10" text-anchor="end" fill="#111" font-weight="normal" font-style="normal" >0.823</text>
<text x="205.5" y="338.6" font-size="10" text-anchor="end" fill="#111" font-weight="normal" font-style="normal" >0.753</text>
<rect x="87.50" y="343.33" width="60.20" height="17.33" fill="#70a4da" stroke="none" stroke-width="1" shape-rendering="crispEdges"/>
<rect x="147.20" y="343.33" width="61.50" height="17.33" fill="#7aaade" stroke="none" stroke-width="1" shape-rendering="crispEdges"/>
<text x="16.5" y="355.3" font-size="10" text-anchor="start" fill="#222" font-weight="normal" font-style="italic" >ENSA</text>
<text x="145.0" y="355.3" font-size="10" text-anchor="end" fill="#111" font-weight="normal" font-style="normal" >0.823</text>
<text x="205.5" y="355.3" font-size="10" text-anchor="end" fill="#111" font-weight="normal" font-style="normal" >0.753</text>
<rect x="87.50" y="360.06" width="60.20" height="17.33" fill="#82b0e0" stroke="none" stroke-width="1" shape-rendering="crispEdges"/>
<rect x="147.20" y="360.06" width="61.50" height="17.33" fill="#a0c4e8" stroke="none" stroke-width="1" shape-rendering="crispEdges"/>
<text x="16.5" y="372.0" font-size="10" text-anchor="start" fill="#222" font-weight="normal" font-style="italic" >CCDC97</text>
<text x="145.0" y="372.0" font-size="10" text-anchor="end" fill="#111" font-weight="normal" font-style="normal" >0.707</text>
<text x="205.5" y="372.0" font-size="10" text-anchor="end" fill="#111" font-weight="normal" font-style="normal" >0.552</text>
<rect x="87.50" y="376.79" width="60.20" height="17.33" fill="#84b1e0" stroke="none" stroke-width="1" shape-rendering="crispEdges"/>
<rect x="147.20" y="376.79" width="61.50" height="17.33" fill="#aac9ea" stroke="none" stroke-width="1" shape-rendering="crispEdges"/>
<text x="16.5" y="388.8" font-size="10" text-anchor="start" fill="#222" font-weight="normal" font-style="italic" >GMPR</text>
<text x="145.0" y="388.8" font-size="10" text-anchor="end" fill="#111" font-weight="normal" font-style="normal" >0.689</text>
<text x="205.5" y="388.8" font-size="10" text-anchor="end" fill="#111" font-weight="normal" font-style="normal" >0.486</text>
<rect x="87.50" y="393.52" width="60.20" height="17.33" fill="#a8c8ea" stroke="none" stroke-width="1" shape-rendering="crispEdges"/>
<rect x="147.20" y="393.52" width="61.50" height="17.33" fill="#a0c4e8" stroke="none" stroke-width="1" shape-rendering="crispEdges"/>
<text x="16.5" y="405.5" font-size="10" text-anchor="start" fill="#222" font-weight="normal" font-style="italic" >GNA15</text>
<text x="145.0" y="405.5" font-size="10" text-anchor="end" fill="#111" font-weight="normal" font-style="normal" >0.498</text>
<text x="205.5" y="405.5" font-size="10" text-anchor="end" fill="#111" font-weight="normal" font-style="normal" >0.550</text>
<rect x="87.50" y="410.25" width="60.20" height="17.33" fill="#b4d0ec" stroke="none" stroke-width="1" shape-rendering="crispEdges"/>
<rect x="147.20" y="410.25" width="61.50" height="17.33" fill="#bdd6ef" stroke="none" stroke-width="1" shape-rendering="crispEdges"/>
<text x="16.5" y="422.2" font-size="10" text-anchor="start" fill="#222" font-weight="normal" font-style="italic" >ABCG1</text>
<text x="145.0" y="422.2" font-size="10" text-anchor="end" fill="#111" font-weight="normal" font-style="normal" >0.437</text>
<text x="205.5" y="422.2" font-size="10" text-anchor="end" fill="#111" font-weight="normal" font-style="normal" >0.387</text>
<rect x="87.50" y="426.98" width="60.20" height="17.33" fill="#d6e5f4" stroke="none" stroke-width="1" shape-rendering="crispEdges"/>
<rect x="147.20" y="426.98" width="61.50" height="17.33" fill="#eef4fb" stroke="none" stroke-width="1" shape-rendering="crispEdges"/>
<text x="16.5" y="438.9" font-size="10" text-anchor="start" fill="#222" font-weight="normal" font-style="italic" >SLC7A5</text>
<text x="145.0" y="438.9" font-size="10" text-anchor="end" fill="#111" font-weight="normal" font-style="normal" >0.266</text>
<text x="205.5" y="438.9" font-size="10" text-anchor="end" fill="#111" font-weight="normal" font-style="normal" >0.115</text>
<rect x="87.50" y="443.71" width="60.20" height="17.33" fill="#ffabab" stroke="none" stroke-width="1" shape-rendering="crispEdges"/>
<rect x="147.20" y="443.71" width="61.50" height="17.33" fill="#fff0ee" stroke="none" stroke-width="1" shape-rendering="crispEdges"/>
<text x="16.5" y="455.7" font-size="10" text-anchor="start" fill="#222" font-weight="normal" font-style="italic" >NUGGC</text>
<text x="145.0" y="455.7" font-size="10" text-anchor="end" fill="#111" font-weight="normal" font-style="normal" >-0.296</text>
<text x="205.5" y="455.7" font-size="10" text-anchor="end" fill="#111" font-weight="normal" font-style="normal" >-0.034</text>
<rect x="14.50" y="326.60" width="194.20" height="133.84" fill="none" stroke="#222" stroke-width="1" />
<line x1="87.50" y1="326.60" x2="87.50" y2="460.44" stroke="#222" stroke-width="1" />
<defs><linearGradient id="cb" x1="0" x2="1" y1="0" y2="0"><stop offset="0" stop-color="#f8722e"/><stop offset="0.5" stop-color="#ffffff"/><stop offset="1" stop-color="#3f6cc4"/></linearGradient></defs>
<rect x="151.50" y="482.00" width="54.00" height="10.00" fill="url(#cb)" stroke="#111" stroke-width="1" />
<text x="156.0" y="476.0" font-size="10" text-anchor="middle" fill="#111" font-weight="normal" font-style="normal" >−1</text>
<text x="197.5" y="476.0" font-size="10" text-anchor="middle" fill="#111" font-weight="normal" font-style="normal" >1</text>
<text x="176.0" y="508.7" font-size="11" text-anchor="middle" fill="#222" font-weight="normal" font-style="normal" >Correlation efficient</text>
<line x1="290.70" y1="328.00" x2="290.70" y2="434.30" stroke="#222" stroke-width="1" />
<line x1="290.70" y1="434.30" x2="406.80" y2="434.30" stroke="#222" stroke-width="1" />
<line x1="288.20" y1="434.30" x2="290.70" y2="434.30" stroke="#222" stroke-width="1" />
<text x="285.0" y="436.8" font-size="7" text-anchor="end" fill="#222" font-weight="normal" font-style="normal" >0</text>
<line x1="288.20" y1="416.63" x2="290.70" y2="416.63" stroke="#222" stroke-width="1" />
<text x="285.0" y="419.1" font-size="7" text-anchor="end" fill="#222" font-weight="normal" font-style="normal" >20</text>
<line x1="288.20" y1="398.97" x2="290.70" y2="398.97" stroke="#222" stroke-width="1" />
<text x="285.0" y="401.5" font-size="7" text-anchor="end" fill="#222" font-weight="normal" font-style="normal" >40</text>
<line x1="288.20" y1="381.30" x2="290.70" y2="381.30" stroke="#222" stroke-width="1" />
<text x="285.0" y="383.8" font-size="7" text-anchor="end" fill="#222" font-weight="normal" font-style="normal" >60</text>
<line x1="288.20" y1="363.63" x2="290.70" y2="363.63" stroke="#222" stroke-width="1" />
<text x="285.0" y="366.1" font-size="7" text-anchor="end" fill="#222" font-weight="normal" font-style="normal" >80</text>
<line x1="288.20" y1="345.97" x2="290.70" y2="345.97" stroke="#222" stroke-width="1" />
<text x="285.0" y="348.5" font-size="7" text-anchor="end" fill="#222" font-weight="normal" font-style="normal" >100</text>
<line x1="288.20" y1="328.30" x2="290.70" y2="328.30" stroke="#222" stroke-width="1" />
<text x="285.0" y="330.8" font-size="7" text-anchor="end" fill="#222" font-weight="normal" font-style="normal" >120</text>
<line x1="290.70" y1="434.30" x2="290.70" y2="436.80" stroke="#222" stroke-width="1" />
<text x="290.7" y="447.5" font-size="7.2" text-anchor="middle" fill="#222" font-weight="normal" font-style="normal" >0</text>
<line x1="348.80" y1="434.30" x2="348.80" y2="436.80" stroke="#222" stroke-width="1" />
<text x="348.8" y="447.5" font-size="7.2" text-anchor="middle" fill="#222" font-weight="normal" font-style="normal" >5000</text>
<line x1="406.90" y1="434.30" x2="406.90" y2="436.80" stroke="#222" stroke-width="1" />
<text x="406.9" y="447.5" font-size="7.2" text-anchor="middle" fill="#222" font-weight="normal" font-style="normal" >10000</text>
<line x1="294.60" y1="432.30" x2="368.80" y2="357.80" stroke="#3a6fd0" stroke-width="1.5" stroke-dasharray="1.5,2.3"/>
<circle cx="366.1" cy="335.0" r="2.0" fill="#000" stroke="none" stroke-width="0"/>
<circle cx="369.0" cy="337.0" r="2.0" fill="#000" stroke="none" stroke-width="0"/>
<circle cx="344.5" cy="385.8" r="2.0" fill="#000" stroke="none" stroke-width="0"/>
<circle cx="358.2" cy="400.4" r="2.0" fill="#000" stroke="none" stroke-width="0"/>
<circle cx="305.1" cy="393.7" r="2.0" fill="#000" stroke="none" stroke-width="0"/>
<circle cx="320.6" cy="405.4" r="2.0" fill="#000" stroke="none" stroke-width="0"/>
<circle cx="321.2" cy="408.3" r="2.0" fill="#000" stroke="none" stroke-width="0"/>
<circle cx="313.6" cy="418.2" r="2.0" fill="#000" stroke="none" stroke-width="0"/>
<circle cx="315.6" cy="418.8" r="2.0" fill="#000" stroke="none" stroke-width="0"/>
<circle cx="321.5" cy="420.3" r="2.0" fill="#000" stroke="none" stroke-width="0"/>
<circle cx="325.5" cy="420.6" r="2.0" fill="#000" stroke="none" stroke-width="0"/>
<circle cx="294.9" cy="425.0" r="2.0" fill="#000" stroke="none" stroke-width="0"/>
<circle cx="297.0" cy="425.5" r="2.0" fill="#000" stroke="none" stroke-width="0"/>
<text x="356.0" y="464.6" font-size="11" text-anchor="middle" fill="#222" font-weight="normal" font-style="normal" >CSF CXCL10 (pg/ml)</text>
<g transform="translate(267.3,377.7) rotate(-90)">
<text x="0.0" y="0.0" font-size="9.5" text-anchor="middle" fill="#222" font-weight="normal" font-style="normal" >RNA-seq TPM (<tspan font-style="italic">MAP3K8</tspan>)</text>
</g>
<line x1="470.40" y1="328.00" x2="470.40" y2="431.90" stroke="#222" stroke-width="1" />
<line x1="470.40" y1="431.90" x2="587.70" y2="431.90" stroke="#222" stroke-width="1" />
<line x1="467.90" y1="431.90" x2="470.40" y2="431.90" stroke="#222" stroke-width="1" />
<text x="465.0" y="434.4" font-size="7" text-anchor="end" fill="#222" font-weight="normal" font-style="normal" >0</text>
<line x1="467.90" y1="414.78" x2="470.40" y2="414.78" stroke="#222" stroke-width="1" />
<text x="465.0" y="417.3" font-size="7" text-anchor="end" fill="#222" font-weight="normal" font-style="normal" >20</text>
<line x1="467.90" y1="397.67" x2="470.40" y2="397.67" stroke="#222" stroke-width="1" />
<text x="465.0" y="400.2" font-size="7" text-anchor="end" fill="#222" font-weight="normal" font-style="normal" >40</text>
<line x1="467.90" y1="380.55" x2="470.40" y2="380.55" stroke="#222" stroke-width="1" />
<text x="465.0" y="383.0" font-size="7" text-anchor="end" fill="#222" font-weight="normal" font-style="normal" >60</text>
<line x1="467.90" y1="363.43" x2="470.40" y2="363.43" stroke="#222" stroke-width="1" />
<text x="465.0" y="365.9" font-size="7" text-anchor="end" fill="#222" font-weight="normal" font-style="normal" >80</text>
<line x1="467.90" y1="346.32" x2="470.40" y2="346.32" stroke="#222" stroke-width="1" />
<text x="465.0" y="348.8" font-size="7" text-anchor="end" fill="#222" font-weight="normal" font-style="normal" >100</text>
<line x1="467.90" y1="329.20" x2="470.40" y2="329.20" stroke="#222" stroke-width="1" />
<text x="465.0" y="331.7" font-size="7" text-anchor="end" fill="#222" font-weight="normal" font-style="normal" >120</text>
<line x1="470.40" y1="431.90" x2="470.40" y2="434.40" stroke="#222" stroke-width="1" />
<text x="470.4" y="443.0" font-size="7.2" text-anchor="middle" fill="#222" font-weight="normal" font-style="normal" >0</text>
<line x1="499.70" y1="431.90" x2="499.70" y2="434.40" stroke="#222" stroke-width="1" />
<text x="499.7" y="443.0" font-size="7.2" text-anchor="middle" fill="#222" font-weight="normal" font-style="normal" >10</text>
<line x1="529.00" y1="431.90" x2="529.00" y2="434.40" stroke="#222" stroke-width="1" />
<text x="529.0" y="443.0" font-size="7.2" text-anchor="middle" fill="#222" font-weight="normal" font-style="normal" >20</text>
<line x1="558.30" y1="431.90" x2="558.30" y2="434.40" stroke="#222" stroke-width="1" />
<text x="558.3" y="443.0" font-size="7.2" text-anchor="middle" fill="#222" font-weight="normal" font-style="normal" >30</text>
<line x1="587.60" y1="431.90" x2="587.60" y2="434.40" stroke="#222" stroke-width="1" />
<text x="587.6" y="443.0" font-size="7.2" text-anchor="middle" fill="#222" font-weight="normal" font-style="normal" >40</text>
<line x1="481.40" y1="430.30" x2="569.50" y2="359.00" stroke="#3a6fd0" stroke-width="1.5" stroke-dasharray="1.5,2.3"/>
<circle cx="481.9" cy="423.0" r="2.0" fill="#000" stroke="none" stroke-width="0"/>
<circle cx="487.9" cy="423.3" r="2.0" fill="#000" stroke="none" stroke-width="0"/>
<circle cx="499.6" cy="416.5" r="2.0" fill="#000" stroke="none" stroke-width="0"/>
<circle cx="505.7" cy="418.6" r="2.0" fill="#000" stroke="none" stroke-width="0"/>
<circle cx="511.3" cy="417.0" r="2.0" fill="#000" stroke="none" stroke-width="0"/>
<circle cx="502.6" cy="406.7" r="2.0" fill="#000" stroke="none" stroke-width="0"/>
<circle cx="505.5" cy="392.9" r="2.0" fill="#000" stroke="none" stroke-width="0"/>
<circle cx="523.0" cy="385.0" r="2.0" fill="#000" stroke="none" stroke-width="0"/>
<circle cx="531.8" cy="418.6" r="2.0" fill="#000" stroke="none" stroke-width="0"/>
<circle cx="546.3" cy="403.9" r="2.0" fill="#000" stroke="none" stroke-width="0"/>
<circle cx="552.2" cy="399.2" r="2.0" fill="#000" stroke="none" stroke-width="0"/>
<circle cx="555.2" cy="335.9" r="2.0" fill="#000" stroke="none" stroke-width="0"/>
<circle cx="569.7" cy="337.8" r="2.0" fill="#000" stroke="none" stroke-width="0"/>
<text x="535.0" y="462.0" font-size="11" text-anchor="middle" fill="#222" font-weight="normal" font-style="normal" >CSF neopterin (pmol/ml)</text>
<g transform="translate(448.2,381.7) rotate(-90)">
<text x="0.0" y="0.0" font-size="9.5" text-anchor="middle" fill="#222" font-weight="normal" font-style="normal" >RNA-seq TPM (<tspan font-style="italic">MAP3K8</tspan>)</text>
</g>
<rect x="51.50" y="616.00" width="311.60" height="168.30" fill="none" stroke="#7a7a7a" stroke-width="1" />
<line x1="47.30" y1="778.20" x2="51.50" y2="778.20" stroke="#7a7a7a" stroke-width="1" />
<g transform="translate(40.3,778.2) rotate(-90)">
<text x="0.0" y="0.0" font-size="7.6" text-anchor="middle" fill="#333" font-weight="normal" font-style="normal" >0</text>
</g>
<line x1="47.30" y1="747.00" x2="51.50" y2="747.00" stroke="#7a7a7a" stroke-width="1" />
<g transform="translate(40.3,747.0) rotate(-90)">
<text x="0.0" y="0.0" font-size="7.6" text-anchor="middle" fill="#333" font-weight="normal" font-style="normal" >20</text>
</g>
<line x1="47.30" y1="715.80" x2="51.50" y2="715.80" stroke="#7a7a7a" stroke-width="1" />
<g transform="translate(40.3,715.8) rotate(-90)">
<text x="0.0" y="0.0" font-size="7.6" text-anchor="middle" fill="#333" font-weight="normal" font-style="normal" >40</text>
</g>
<line x1="47.30" y1="684.60" x2="51.50" y2="684.60" stroke="#7a7a7a" stroke-width="1" />
<g transform="translate(40.3,684.6) rotate(-90)">
<text x="0.0" y="0.0" font-size="7.6" text-anchor="middle" fill="#333" font-weight="normal" font-style="normal" >60</text>
</g>
<line x1="47.30" y1="653.40" x2="51.50" y2="653.40" stroke="#7a7a7a" stroke-width="1" />
<g transform="translate(40.3,653.4) rotate(-90)">
<text x="0.0" y="0.0" font-size="7.6" text-anchor="middle" fill="#333" font-weight="normal" font-style="normal" >80</text>
</g>
<line x1="47.30" y1="622.20" x2="51.50" y2="622.20" stroke="#7a7a7a" stroke-width="1" />
<g transform="translate(40.3,622.2) rotate(-90)">
<text x="0.0" y="0.0" font-size="7.6" text-anchor="middle" fill="#333" font-weight="normal" font-style="normal" >100</text>
</g>
<g transform="translate(20.0,693) rotate(-90)">
<text x="0.0" y="0.0" font-size="9.5" text-anchor="middle" fill="#222" font-weight="normal" font-style="normal" >Normalized <tspan font-style="italic">MAP3K8</tspan> expression by RNA-seq</text>
</g>
<line x1="83.40" y1="784.30" x2="83.40" y2="789.80" stroke="#7a7a7a" stroke-width="1" />
<text x="83.4" y="804.2" font-size="9.6" text-anchor="middle" fill="#111" font-weight="normal" font-style="normal" >AC_P</text>
<line x1="124.60" y1="784.30" x2="124.60" y2="789.80" stroke="#7a7a7a" stroke-width="1" />
<text x="124.6" y="804.2" font-size="9.6" text-anchor="middle" fill="#111" font-weight="normal" font-style="normal" >AC_D</text>
<line x1="165.80" y1="784.30" x2="165.80" y2="789.80" stroke="#7a7a7a" stroke-width="1" />
<text x="165.8" y="804.2" font-size="9.6" text-anchor="middle" fill="#111" font-weight="normal" font-style="normal" >HAM_D</text>
<line x1="207.00" y1="784.30" x2="207.00" y2="789.80" stroke="#7a7a7a" stroke-width="1" />
<text x="207.0" y="804.2" font-size="9.6" text-anchor="middle" fill="#111" font-weight="normal" font-style="normal" >iATL_D</text>
<line x1="248.20" y1="784.30" x2="248.20" y2="789.80" stroke="#7a7a7a" stroke-width="1" />
<text x="248.2" y="804.2" font-size="9.6" text-anchor="middle" fill="#111" font-weight="normal" font-style="normal" >AC_N</text>
<line x1="289.50" y1="784.30" x2="289.50" y2="789.80" stroke="#7a7a7a" stroke-width="1" />
<text x="289.5" y="804.2" font-size="9.6" text-anchor="middle" fill="#111" font-weight="normal" font-style="normal" >iATL_N</text>
<line x1="330.70" y1="784.30" x2="330.70" y2="789.80" stroke="#7a7a7a" stroke-width="1" />
<text x="330.7" y="804.2" font-size="9.6" text-anchor="middle" fill="#111" font-weight="normal" font-style="normal" >aATL_N</text>
<line x1="83.40" y1="751.30" x2="83.40" y2="757.80" stroke="#000000" stroke-width="1" stroke-dasharray="1.5,2"/>
<line x1="83.40" y1="765.90" x2="83.40" y2="766.50" stroke="#000000" stroke-width="1" stroke-dasharray="1.5,2"/>
<line x1="78.40" y1="751.30" x2="88.40" y2="751.30" stroke="#000000" stroke-width="1" />
<line x1="78.40" y1="766.50" x2="88.40" y2="766.50" stroke="#000000" stroke-width="1" />
<rect x="73.40" y="757.80" width="20.40" height="8.10" fill="none" stroke="#000000" stroke-width="1" stroke-opacity="0.75"/>
<line x1="73.40" y1="763.40" x2="93.80" y2="763.40" stroke="#000000" stroke-width="2" />
<circle cx="87.0" cy="751.0" r="2.0" fill="#000000" stroke="none" stroke-width="0"/>
<circle cx="83.6" cy="753.5" r="2.0" fill="#000000" stroke="none" stroke-width="0"/>
<circle cx="80.1" cy="757.8" r="2.0" fill="#000000" stroke="none" stroke-width="0"/>
<circle cx="83.6" cy="761.0" r="2.0" fill="#000000" stroke="none" stroke-width="0"/>
<circle cx="87.9" cy="760.7" r="2.0" fill="#000000" stroke="none" stroke-width="0"/>
<circle cx="74.6" cy="764.7" r="2.0" fill="#000000" stroke="none" stroke-width="0"/>
<circle cx="79.2" cy="766.5" r="2.0" fill="#000000" stroke="none" stroke-width="0"/>
<circle cx="83.3" cy="767.4" r="2.0" fill="#000000" stroke="none" stroke-width="0"/>
<circle cx="87.9" cy="766.5" r="2.0" fill="#000000" stroke="none" stroke-width="0"/>
<circle cx="92.0" cy="764.4" r="2.0" fill="#000000" stroke="none" stroke-width="0"/>
<line x1="124.60" y1="729.90" x2="124.60" y2="740.50" stroke="#ff8c0a" stroke-width="1" stroke-dasharray="1.5,2"/>
<line x1="124.60" y1="755.70" x2="124.60" y2="764.00" stroke="#ff8c0a" stroke-width="1" stroke-dasharray="1.5,2"/>
<line x1="119.60" y1="729.90" x2="129.60" y2="729.90" stroke="#ff8c0a" stroke-width="1" />
<line x1="119.60" y1="764.00" x2="129.60" y2="764.00" stroke="#ff8c0a" stroke-width="1" />
<rect x="114.20" y="740.50" width="20.60" height="15.20" fill="none" stroke="#ff8c0a" stroke-width="1" stroke-opacity="0.75"/>
<line x1="114.20" y1="749.80" x2="134.80" y2="749.80" stroke="#ff8c0a" stroke-width="2" />
<circle cx="124.5" cy="729.9" r="2.0" fill="#ff8c0a" stroke="none" stroke-width="0"/>
<circle cx="127.3" cy="738.9" r="2.0" fill="#ff8c0a" stroke="none" stroke-width="0"/>
<circle cx="124.5" cy="742.7" r="2.0" fill="#ff8c0a" stroke="none" stroke-width="0"/>
<circle cx="124.5" cy="748.3" r="2.0" fill="#ff8c0a" stroke="none" stroke-width="0"/>
<circle cx="128.5" cy="751.3" r="2.0" fill="#ff8c0a" stroke="none" stroke-width="0"/>
<circle cx="124.5" cy="753.3" r="2.0" fill="#ff8c0a" stroke="none" stroke-width="0"/>
<circle cx="124.5" cy="758.2" r="2.0" fill="#ff8c0a" stroke="none" stroke-width="0"/>
<circle cx="124.5" cy="764.0" r="2.0" fill="#ff8c0a" stroke="none" stroke-width="0"/>
<line x1="165.80" y1="690.00" x2="165.80" y2="704.20" stroke="#f66464" stroke-width="1" stroke-dasharray="1.5,2"/>
<line x1="165.80" y1="747.20" x2="165.80" y2="757.60" stroke="#f66464" stroke-width="1" stroke-dasharray="1.5,2"/>
<line x1="160.80" y1="690.00" x2="170.80" y2="690.00" stroke="#f66464" stroke-width="1" />
<line x1="160.80" y1="757.60" x2="170.80" y2="757.60" stroke="#f66464" stroke-width="1" />
<rect x="155.50" y="704.20" width="20.60" height="43.00" fill="none" stroke="#f66464" stroke-width="1" stroke-opacity="0.75"/>
<line x1="155.50" y1="720.90" x2="176.10" y2="720.90" stroke="#f66464" stroke-width="2" />
<circle cx="165.6" cy="632.3" r="2.0" fill="#fff" stroke="#f66464" stroke-width="0.8"/>
<circle cx="169.1" cy="631.6" r="2.0" fill="#f66464" stroke="none" stroke-width="0"/>
<circle cx="165.6" cy="635.0" r="2.0" fill="#f66464" stroke="none" stroke-width="0"/>
<circle cx="165.6" cy="690.0" r="2.0" fill="#f66464" stroke="none" stroke-width="0"/>
<circle cx="170.0" cy="704.2" r="2.0" fill="#f66464" stroke="none" stroke-width="0"/>
<circle cx="165.6" cy="706.1" r="2.0" fill="#f66464" stroke="none" stroke-width="0"/>
<circle cx="165.6" cy="714.5" r="2.0" fill="#f66464" stroke="none" stroke-width="0"/>
<circle cx="165.6" cy="720.9" r="2.0" fill="#f66464" stroke="none" stroke-width="0"/>
<circle cx="163.0" cy="742.3" r="2.0" fill="#f66464" stroke="none" stroke-width="0"/>
<circle cx="167.9" cy="743.2" r="2.0" fill="#f66464" stroke="none" stroke-width="0"/>
<circle cx="165.6" cy="747.2" r="2.0" fill="#f66464" stroke="none" stroke-width="0"/>
<circle cx="170.4" cy="747.2" r="2.0" fill="#f66464" stroke="none" stroke-width="0"/>
<circle cx="165.6" cy="757.6" r="2.0" fill="#f66464" stroke="none" stroke-width="0"/>
<circle cx="170.0" cy="756.8" r="2.0" fill="#f66464" stroke="none" stroke-width="0"/>
<line x1="207.00" y1="753.30" x2="207.00" y2="753.30" stroke="#a9a9a9" stroke-width="1" stroke-dasharray="1.5,2"/>
<line x1="207.00" y1="760.00" x2="207.00" y2="768.10" stroke="#a9a9a9" stroke-width="1" stroke-dasharray="1.5,2"/>
<line x1="202.00" y1="753.30" x2="212.00" y2="753.30" stroke="#a9a9a9" stroke-width="1" />
<line x1="202.00" y1="768.10" x2="212.00" y2="768.10" stroke="#a9a9a9" stroke-width="1" />
<rect x="196.80" y="753.30" width="20.60" height="6.70" fill="none" stroke="#a9a9a9" stroke-width="1" stroke-opacity="0.75"/>
<line x1="196.80" y1="757.20" x2="217.40" y2="757.20" stroke="#a9a9a9" stroke-width="2" />
<circle cx="207.0" cy="738.6" r="2.0" fill="#a9a9a9" stroke="none" stroke-width="0"/>
<circle cx="207.0" cy="753.3" r="2.0" fill="#a9a9a9" stroke="none" stroke-width="0"/>
<circle cx="210.7" cy="757.2" r="2.0" fill="#a9a9a9" stroke="none" stroke-width="0"/>
<circle cx="207.0" cy="760.0" r="2.0" fill="#a9a9a9" stroke="none" stroke-width="0"/>
<circle cx="207.0" cy="768.1" r="2.0" fill="#a9a9a9" stroke="none" stroke-width="0"/>
<line x1="248.20" y1="754.10" x2="248.20" y2="758.20" stroke="#2bbd4a" stroke-width="1" stroke-dasharray="1.5,2"/>
<line x1="248.20" y1="770.40" x2="248.20" y2="774.50" stroke="#2bbd4a" stroke-width="1" stroke-dasharray="1.5,2"/>
<line x1="243.20" y1="754.10" x2="253.20" y2="754.10" stroke="#2bbd4a" stroke-width="1" />
<line x1="243.20" y1="774.50" x2="253.20" y2="774.50" stroke="#2bbd4a" stroke-width="1" />
<rect x="237.90" y="758.20" width="21.00" height="12.20" fill="none" stroke="#2bbd4a" stroke-width="1" stroke-opacity="0.75"/>
<line x1="237.90" y1="764.70" x2="258.90" y2="764.70" stroke="#2bbd4a" stroke-width="2" />
<circle cx="252.8" cy="754.1" r="2.0" fill="#2bbd4a" stroke="none" stroke-width="0"/>
<circle cx="248.4" cy="755.2" r="2.0" fill="#2bbd4a" stroke="none" stroke-width="0"/>
<circle cx="244.9" cy="758.5" r="2.0" fill="#2bbd4a" stroke="none" stroke-width="0"/>
<circle cx="248.9" cy="760.8" r="2.0" fill="#2bbd4a" stroke="none" stroke-width="0"/>
<circle cx="246.1" cy="764.3" r="2.0" fill="#2bbd4a" stroke="none" stroke-width="0"/>
<circle cx="250.1" cy="766.6" r="2.0" fill="#2bbd4a" stroke="none" stroke-width="0"/>
<circle cx="247.2" cy="770.4" r="2.0" fill="#2bbd4a" stroke="none" stroke-width="0"/>
<circle cx="251.4" cy="771.3" r="2.0" fill="#2bbd4a" stroke="none" stroke-width="0"/>
<circle cx="248.4" cy="774.5" r="2.0" fill="#2bbd4a" stroke="none" stroke-width="0"/>
<line x1="289.50" y1="751.70" x2="289.50" y2="762.60" stroke="#1e1ef0" stroke-width="1" stroke-dasharray="1.5,2"/>
<line x1="289.50" y1="775.20" x2="289.50" y2="776.90" stroke="#1e1ef0" stroke-width="1" stroke-dasharray="1.5,2"/>
<line x1="284.50" y1="751.70" x2="294.50" y2="751.70" stroke="#1e1ef0" stroke-width="1" />
<line x1="284.50" y1="776.90" x2="294.50" y2="776.90" stroke="#1e1ef0" stroke-width="1" />
<rect x="279.40" y="762.60" width="20.70" height="12.60" fill="none" stroke="#1e1ef0" stroke-width="1" stroke-opacity="0.75"/>
<line x1="279.40" y1="771.00" x2="300.10" y2="771.00" stroke="#1e1ef0" stroke-width="2" />
<circle cx="289.6" cy="751.7" r="2.0" fill="#1e1ef0" stroke="none" stroke-width="0"/>
<circle cx="286.9" cy="760.8" r="2.0" fill="#1e1ef0" stroke="none" stroke-width="0"/>
<circle cx="293.4" cy="762.6" r="2.0" fill="#1e1ef0" stroke="none" stroke-width="0"/>
<circle cx="289.6" cy="764.8" r="2.0" fill="#1e1ef0" stroke="none" stroke-width="0"/>
<circle cx="289.6" cy="771.0" r="2.0" fill="#1e1ef0" stroke="none" stroke-width="0"/>
<circle cx="280.8" cy="774.5" r="2.0" fill="#1e1ef0" stroke="none" stroke-width="0"/>
<circle cx="285.7" cy="775.7" r="2.0" fill="#1e1ef0" stroke="none" stroke-width="0"/>
<circle cx="289.6" cy="776.9" r="2.0" fill="#1e1ef0" stroke="none" stroke-width="0"/>
<circle cx="293.9" cy="776.2" r="2.0" fill="#1e1ef0" stroke="none" stroke-width="0"/>
<line x1="330.70" y1="737.50" x2="330.70" y2="759.60" stroke="#4f0a78" stroke-width="1" stroke-dasharray="1.5,2"/>
<line x1="330.70" y1="774.00" x2="330.70" y2="776.20" stroke="#4f0a78" stroke-width="1" stroke-dasharray="1.5,2"/>
<line x1="325.70" y1="737.50" x2="335.70" y2="737.50" stroke="#4f0a78" stroke-width="1" />
<line x1="325.70" y1="776.20" x2="335.70" y2="776.20" stroke="#4f0a78" stroke-width="1" />
<rect x="320.20" y="759.60" width="21.20" height="14.40" fill="none" stroke="#4f0a78" stroke-width="1" stroke-opacity="0.75"/>
<line x1="320.20" y1="772.70" x2="341.40" y2="772.70" stroke="#4f0a78" stroke-width="2" />
<circle cx="330.7" cy="720.5" r="2.0" fill="#4f0a78" stroke="none" stroke-width="0"/>
<circle cx="330.7" cy="737.5" r="2.0" fill="#4f0a78" stroke="none" stroke-width="0"/>
<circle cx="330.7" cy="745.0" r="2.0" fill="#4f0a78" stroke="none" stroke-width="0"/>
<circle cx="330.7" cy="759.8" r="2.0" fill="#4f0a78" stroke="none" stroke-width="0"/>
<circle cx="329.0" cy="771.0" r="2.0" fill="#4f0a78" stroke="none" stroke-width="0"/>
<circle cx="333.0" cy="771.8" r="2.0" fill="#4f0a78" stroke="none" stroke-width="0"/>
<circle cx="317.6" cy="773.1" r="2.0" fill="#4f0a78" stroke="none" stroke-width="0"/>
<circle cx="322.0" cy="774.8" r="2.0" fill="#4f0a78" stroke="none" stroke-width="0"/>
<circle cx="326.4" cy="776.2" r="2.0" fill="#4f0a78" stroke="none" stroke-width="0"/>
<circle cx="330.7" cy="776.2" r="2.0" fill="#4f0a78" stroke="none" stroke-width="0"/>
<circle cx="335.1" cy="776.2" r="2.0" fill="#4f0a78" stroke="none" stroke-width="0"/>
<circle cx="339.5" cy="775.2" r="2.0" fill="#4f0a78" stroke="none" stroke-width="0"/>
<circle cx="344.2" cy="774.0" r="2.0" fill="#4f0a78" stroke="none" stroke-width="0"/>
<circle cx="337.2" cy="772.7" r="2.0" fill="#4f0a78" stroke="none" stroke-width="0"/>
<polyline points="166.6,572.1 166.6,568.1 330.1,568.1 330.1,572.1" fill="none" stroke="#3d5282" stroke-width="1"/>
<text x="248.4" y="567.5" font-size="8.5" text-anchor="middle" fill="#222" font-weight="normal" font-style="normal" >***</text>
<polyline points="167.5,582.6999999999999 167.5,578.4 287.8,578.4 287.8,582.6999999999999" fill="none" stroke="#3d5282" stroke-width="1"/>
<text x="227.7" y="579.5" font-size="8.5" text-anchor="middle" fill="#222" font-weight="normal" font-style="normal" >***</text>
<polyline points="167,594.7 167,590.6 248.4,590.6 248.4,594.7" fill="none" stroke="#3d5282" stroke-width="1"/>
<text x="207.7" y="591.5" font-size="8.5" text-anchor="middle" fill="#222" font-weight="normal" font-style="normal" >***</text>
<polyline points="167,611.0 167,606.7 205.5,606.7 205.5,611.0" fill="none" stroke="#3d5282" stroke-width="1"/>
<text x="186.2" y="606.0" font-size="8.5" text-anchor="middle" fill="#222" font-weight="normal" font-style="normal" >*</text>
<polyline points="81.8,595.5 81.8,591.1 163.2,591.1 163.2,595.5" fill="none" stroke="#3d5282" stroke-width="1"/>
<text x="122.5" y="590.5" font-size="8.5" text-anchor="middle" fill="#222" font-weight="normal" font-style="normal" >***</text>
<polyline points="124.7,611.5 124.7,607.2 163.2,607.2 163.2,611.5" fill="none" stroke="#3d5282" stroke-width="1"/>
<text x="143.9" y="606.5" font-size="8.5" text-anchor="middle" fill="#222" font-weight="normal" font-style="normal" >*</text>
<line x1="464.00" y1="573.50" x2="464.00" y2="724.20" stroke="#111" stroke-width="1.6" />
<line x1="463.40" y1="754.30" x2="463.40" y2="896.90" stroke="#111" stroke-width="1.6" />
<g transform="translate(452.2,646) rotate(-90)">
<text x="0.0" y="0.0" font-size="13.6" text-anchor="middle" fill="#000" font-weight="bold" font-style="normal" >ATAC-seq</text>
</g>
<g transform="translate(452.2,822.7) rotate(-90)">
<text x="0.0" y="0.0" font-size="13.6" text-anchor="middle" fill="#000" font-weight="bold" font-style="normal" >RNA-seq</text>
</g>
<rect x="615.30" y="556.00" width="19.60" height="168.30" fill="#ececec" stroke="none" stroke-width="1" />
<text x="518.0" y="585.5" font-size="10.8" text-anchor="middle" fill="#1b75bc" font-weight="bold" font-style="normal" >Normal CD4<tspan font-size="7" dy="-4">+</tspan></text>
<text x="518.7" y="627.3" font-size="10.8" text-anchor="middle" fill="#ee7d35" font-weight="bold" font-style="normal" >AC_D</text>
<text x="518.5" y="668.9" font-size="10.8" text-anchor="middle" fill="#ee1c25" font-weight="bold" font-style="normal" >HAM_D</text>
<text x="517.0" y="710.7" font-size="10.8" text-anchor="middle" fill="#7435a0" font-weight="bold" font-style="normal" >aATL_N</text>
<text x="518.0" y="760.6" font-size="10.8" text-anchor="middle" fill="#1b75bc" font-weight="bold" font-style="normal" >Normal CD4<tspan font-size="7" dy="-4">+</tspan></text>
<text x="516.7" y="795.3" font-size="10.8" text-anchor="middle" fill="#ee7d35" font-weight="bold" font-style="normal" >AC_D</text>
<text x="516.7" y="842.6" font-size="10.8" text-anchor="middle" fill="#ee1c25" font-weight="bold" font-style="normal" >HAM_D</text>
<text x="518.0" y="886.5" font-size="10.8" text-anchor="middle" fill="#7435a0" font-weight="bold" font-style="normal" >aATL_N</text>
<path d="M565.88 591.20V590.50H569.38V591.20ZM575.16 591.20V588.92H576.39V591.20ZM576.39 591.20V587.17H577.26V591.20ZM577.26 591.20V584.19H578.67V591.20ZM578.67 591.20V588.92H579.89V591.20ZM580.42 591.20V587.17H581.99V591.20ZM581.99 591.20V590.15H583.92V591.20ZM584.27 591.20V585.94H585.67V591.20ZM585.67 591.20V589.80H587.78V591.20ZM587.78 591.20V581.04H588.65V591.20ZM588.65 591.20V568.78H590.40V591.20ZM590.40 591.20V582.79H592.15V591.20ZM592.15 591.20V589.80H593.91V591.20ZM593.91 591.20V587.17H595.66V591.20ZM597.94 591.20V590.15H599.16V591.20ZM600.04 591.20V590.15H602.67V591.20ZM608.80 591.20V590.50H613.18V591.20ZM614.93 591.20V590.15H616.68V591.20ZM619.31 591.20V590.50H620.71V591.20ZM622.81 591.20V590.50H623.86V591.20ZM626.32 591.20V590.50H627.37V591.20ZM629.82 591.20V590.50H631.57V591.20ZM634.20 591.20V590.15H635.95V591.20ZM638.58 591.20V590.15H640.68V591.20ZM643.84 591.20V590.15H645.59V591.20ZM649.97 591.20V589.45H653.47V591.20ZM653.47 591.20V586.29H654.70V591.20ZM654.70 591.20V580.69H656.98V591.20ZM656.98 591.20V586.29H657.85V591.20ZM663.11 591.20V590.15H665.74V591.20ZM667.49 591.20V590.15H669.24V591.20ZM673.62 591.20V589.45H676.25V591.20ZM678.88 591.20V590.15H680.63V591.20ZM682.38 591.20V590.15H685.01V591.20Z" fill="#55bff2"/>
<line x1="566.00" y1="591.70" x2="685.00" y2="591.70" stroke="#cfcfcf" stroke-width="0.9" />
<path d="M565.88 634.80V634.10H570.26V634.80ZM575.16 634.80V633.57H578.14V634.80ZM580.77 634.80V633.05H584.27V634.80ZM584.27 634.80V633.40H587.78V634.80ZM587.78 634.80V627.79H588.65V634.80ZM588.65 634.80V611.15H589.88V634.80ZM589.88 634.80V622.54H590.93V634.80ZM590.93 634.80V631.30H592.15V634.80ZM593.91 634.80V632.70H595.66V634.80ZM597.41 634.80V634.10H600.04V634.80ZM607.05 634.80V633.22H612.30V634.80ZM615.81 634.80V634.10H617.56V634.80ZM623.69 634.80V626.92H625.79V634.80ZM629.82 634.80V633.57H632.45V634.80ZM635.08 634.80V633.75H637.70V634.80ZM638.58 634.80V633.75H640.68V634.80ZM644.71 634.80V633.75H647.34V634.80ZM649.09 634.80V633.05H661.36V634.80ZM670.12 634.80V632.70H677.12V634.80ZM680.63 634.80V633.22H685.01V634.80Z" fill="#f7a41e"/>
<line x1="566.00" y1="635.30" x2="685.00" y2="635.30" stroke="#cfcfcf" stroke-width="0.9" />
<path d="M566.75 678.90V677.50H571.13V678.90ZM571.13 678.90V678.20H574.64V678.90ZM574.64 678.90V675.92H576.91V678.90ZM576.91 678.90V669.79H578.67V678.90ZM578.67 678.90V675.92H579.89V678.90ZM579.89 678.90V674.17H582.17V678.90ZM582.17 678.90V677.67H584.27V678.90ZM584.27 678.90V675.05H586.90V678.90ZM586.90 678.90V665.41H588.13V678.90ZM588.13 678.90V644.39H589.88V678.90ZM589.88 678.90V664.53H591.28V678.90ZM591.28 678.90V672.42H593.03V678.90ZM593.03 678.90V676.80H594.78V678.90ZM595.66 678.90V676.27H602.67V678.90ZM604.42 678.90V677.67H607.05V678.90ZM608.80 678.90V675.92H613.18V678.90ZM614.05 678.90V677.15H621.06V678.90ZM621.94 678.90V675.92H623.69V678.90ZM623.69 678.90V654.90H624.92V678.90ZM624.92 678.90V670.67H626.32V678.90ZM626.32 678.90V676.80H628.95V678.90ZM629.82 678.90V675.92H635.08V678.90ZM635.08 678.90V678.20H640.33V678.90ZM643.84 678.90V675.92H647.34V678.90ZM649.09 678.90V676.45H651.72V678.90ZM651.72 678.90V674.17H654.35V678.90ZM654.35 678.90V673.29H656.10V678.90ZM656.10 678.90V672.42H657.50V678.90ZM657.50 678.90V676.45H658.73V678.90ZM663.11 678.90V677.67H666.61V678.90ZM670.12 678.90V676.80H672.74V678.90ZM674.50 678.90V676.80H677.12V678.90ZM678.88 678.90V678.20H685.01V678.90Z" fill="#fd3a12"/>
<line x1="566.00" y1="679.40" x2="685.00" y2="679.40" stroke="#cfcfcf" stroke-width="0.9" />
<path d="M567.63 722.40V720.65H569.38V722.40ZM570.26 722.40V721.70H575.51V722.40ZM576.39 722.40V720.12H577.61V722.40ZM577.61 722.40V718.37H578.67V722.40ZM578.67 722.40V721.00H579.89V722.40ZM580.77 722.40V721.52H585.15V722.40ZM586.90 722.40V719.25H588.30V722.40ZM588.30 722.40V711.36H589.88V722.40ZM589.88 722.40V717.49H591.28V722.40ZM591.28 722.40V721.87H596.53V722.40ZM600.04 722.40V721.70H607.92V722.40ZM609.67 722.40V721.17H613.18V722.40ZM615.81 722.40V721.70H622.81V722.40ZM623.69 722.40V711.36H624.92V722.40ZM624.92 722.40V716.62H626.32V722.40ZM628.95 722.40V721.52H635.08V722.40ZM638.58 722.40V720.47H642.08V722.40ZM643.84 722.40V721.70H648.22V722.40ZM651.72 722.40V720.65H655.22V722.40ZM657.85 722.40V721.52H664.86V722.40ZM670.12 722.40V721.00H671.87V722.40ZM671.87 722.40V719.25H676.25V722.40ZM676.25 722.40V721.70H680.63V722.40Z" fill="#9a66f0"/>
<line x1="566.00" y1="722.90" x2="685.00" y2="722.90" stroke="#cfcfcf" stroke-width="0.9" />
<path d="M578.14 766.60V764.32H579.89V766.60ZM583.40 766.60V765.90H598.29V766.60ZM607.05 766.60V765.90H610.55V766.60ZM618.78 766.60V765.90H619.84V766.60ZM626.67 766.60V765.90H627.72V766.60ZM639.81 766.60V765.90H640.86V766.60ZM646.81 766.60V765.90H647.87V766.60ZM654.70 766.60V765.90H655.75V766.60ZM662.23 766.60V764.67H663.98V766.60ZM666.26 766.60V764.67H668.36V766.60Z" fill="#55bff2"/>
<line x1="566.00" y1="767.10" x2="685.00" y2="767.10" stroke="#cfcfcf" stroke-width="0.9" />
<path d="M577.61 810.40V802.34H579.02V810.40ZM579.02 810.40V804.97H580.77V810.40ZM580.77 810.40V803.74H582.52V810.40ZM582.52 810.40V805.84H584.27V810.40ZM584.27 810.40V807.60H586.02V810.40ZM586.02 810.40V803.74H587.78V810.40ZM587.78 810.40V805.84H589.53V810.40ZM589.53 810.40V803.57H591.28V810.40ZM591.28 810.40V806.72H593.03V810.40ZM593.03 810.40V804.97H594.78V810.40ZM594.78 810.40V802.69H597.41V810.40ZM597.41 810.40V807.60H599.16V810.40ZM599.16 810.40V808.47H601.79V810.40ZM601.79 810.40V809.87H604.42V810.40ZM604.94 810.40V807.25H607.92V810.40ZM607.92 810.40V808.47H609.67V810.40ZM609.67 810.40V807.60H612.30V810.40ZM612.30 810.40V807.25H614.93V810.40ZM614.93 810.40V808.47H617.56V810.40ZM617.56 810.40V809.00H621.06V810.40ZM623.69 810.40V808.47H625.44V810.40ZM625.44 810.40V807.07H628.07V810.40ZM628.95 810.40V808.65H632.45V810.40ZM634.73 810.40V805.32H636.48V810.40ZM636.48 810.40V808.65H638.58V810.40ZM639.46 810.40V809.00H641.21V810.40ZM642.08 810.40V808.65H644.71V810.40ZM646.46 810.40V808.65H649.09V810.40ZM650.84 810.40V809.70H652.60V810.40ZM654.35 810.40V808.65H656.10V810.40ZM661.36 810.40V809.00H663.98V810.40ZM666.26 810.40V807.95H668.36V810.40ZM671.87 810.40V807.25H674.50V810.40ZM674.50 810.40V809.00H676.25V810.40ZM678.88 810.40V809.70H680.63V810.40Z" fill="#f7a03a"/>
<line x1="566.00" y1="810.90" x2="685.00" y2="810.90" stroke="#cfcfcf" stroke-width="0.9" />
<path d="M575.04 854.00V852.82H577.55V854.00ZM577.55 854.00V836.88H578.73V854.00ZM578.73 854.00V821.43H580.07V854.00ZM580.07 854.00V831.84H580.91V854.00ZM580.91 854.00V832.68H582.09V854.00ZM582.09 854.00V843.59H583.09V854.00ZM583.09 854.00V831.84H584.27V854.00ZM584.27 854.00V844.43H585.44V854.00ZM585.44 854.00V836.88H586.79V854.00ZM586.79 854.00V838.56H588.47V854.00ZM588.47 854.00V829.32H589.81V854.00ZM589.81 854.00V836.88H590.98V854.00ZM590.98 854.00V843.59H592.66V854.00ZM592.66 854.00V840.23H594.34V854.00ZM594.34 854.00V836.04H595.18V854.00ZM595.18 854.00V822.10H596.52V854.00ZM596.52 854.00V825.13H597.70V854.00ZM597.70 854.00V848.63H598.54V854.00ZM598.54 854.00V849.47H602.73V854.00ZM602.73 854.00V851.15H605.25V854.00ZM605.25 854.00V847.79H606.93V854.00ZM606.93 854.00V844.94H608.27V854.00ZM608.27 854.00V847.79H610.29V854.00ZM610.29 854.00V846.95H613.98V854.00ZM613.98 854.00V850.64H617.00V854.00ZM617.00 854.00V849.97H622.88V854.00ZM622.88 854.00V851.99H625.40V854.00ZM625.40 854.00V839.90H627.08V854.00ZM627.08 854.00V851.15H628.75V854.00ZM628.75 854.00V850.64H632.95V854.00ZM632.95 854.00V851.65H634.63V854.00ZM634.63 854.00V836.04H636.31V854.00ZM636.31 854.00V851.15H637.99V854.00ZM637.99 854.00V842.75H640.51V854.00ZM640.51 854.00V852.82H642.18V854.00ZM642.18 854.00V849.97H644.70V854.00ZM644.70 854.00V851.15H648.90V854.00ZM648.90 854.00V850.64H652.26V854.00ZM652.26 854.00V851.65H655.61V854.00ZM655.61 854.00V852.82H657.29V854.00ZM657.29 854.00V853.33H661.49V854.00ZM661.49 854.00V845.27H663.17V854.00ZM663.17 854.00V853.33H665.69V854.00ZM665.69 854.00V839.90H667.70V854.00ZM667.70 854.00V852.82H670.72V854.00ZM670.72 854.00V840.23H672.40V854.00ZM672.40 854.00V843.59H674.08V854.00ZM674.08 854.00V848.63H675.76V854.00ZM675.76 854.00V852.82H678.28V854.00Z" fill="#f50f0f"/>
<line x1="566.00" y1="854.50" x2="685.00" y2="854.50" stroke="#cfcfcf" stroke-width="0.9" />
<path d="M578.14 898.20V894.35H580.77V898.20ZM580.77 898.20V896.62H584.27V898.20ZM584.27 898.20V897.15H586.90V898.20ZM586.90 898.20V896.10H589.53V898.20ZM589.53 898.20V896.62H592.15V898.20ZM592.15 898.20V897.15H593.91V898.20ZM594.78 898.20V896.10H597.41V898.20ZM597.41 898.20V897.15H600.04V898.20ZM602.67 898.20V897.50H614.05V898.20ZM621.94 898.20V897.50H636.83V898.20ZM639.46 898.20V896.27H640.68V898.20ZM662.23 898.20V896.62H663.98V898.20ZM666.61 898.20V897.32H674.50V898.20Z" fill="#9c9cf2"/>
<line x1="566.00" y1="898.70" x2="685.00" y2="898.70" stroke="#cfcfcf" stroke-width="0.9" />
<line x1="566.00" y1="905.50" x2="685.00" y2="905.50" stroke="#7d7d7d" stroke-width="1.3" />
<line x1="566.00" y1="909.70" x2="685.00" y2="909.70" stroke="#7d7d7d" stroke-width="1.3" />
<line x1="578.00" y1="920.40" x2="676.60" y2="920.40" stroke="#1515b5" stroke-width="1" />
<line x1="578.40" y1="916.80" x2="578.40" y2="923.80" stroke="#1515b5" stroke-width="1.4" />
<rect x="585.40" y="916.80" width="5.90" height="6.80" fill="#1515b5" stroke="none" stroke-width="1" />
<line x1="596.40" y1="914.30" x2="596.40" y2="926.40" stroke="#1515b5" stroke-width="1.5" />
<rect x="596.90" y="917.00" width="12.10" height="6.60" fill="#1515b5" stroke="none" stroke-width="1" />
<line x1="627.40" y1="914.30" x2="627.40" y2="926.40" stroke="#1515b5" stroke-width="1.6" />
<line x1="635.50" y1="914.30" x2="635.50" y2="926.40" stroke="#1515b5" stroke-width="1.6" />
<line x1="641.30" y1="914.30" x2="641.30" y2="926.40" stroke="#1515b5" stroke-width="1.6" />
<line x1="662.70" y1="914.30" x2="662.70" y2="926.40" stroke="#1515b5" stroke-width="1.6" />
<line x1="667.40" y1="914.30" x2="667.40" y2="926.40" stroke="#1515b5" stroke-width="1.6" />
<line x1="672.10" y1="914.30" x2="672.10" y2="926.40" stroke="#1515b5" stroke-width="1.6" />
<rect x="672.10" y="916.80" width="4.50" height="6.80" fill="#1515b5" stroke="none" stroke-width="1" />
<polyline points="616.3,918.2 618.3,920.4 616.3,922.6" fill="none" stroke="#1515b5" stroke-width="0.9"/>
<polyline points="647.7,918.2 649.7,920.4 647.7,922.6" fill="none" stroke="#1515b5" stroke-width="0.9"/>
<text x="626.2" y="943.2" font-size="10.8" text-anchor="middle" fill="#111" font-weight="bold" font-style="italic" >MAP3K8</text>
<text x="565.3" y="961.5" font-size="8.7" text-anchor="start" fill="#222" textLength="118.5" lengthAdjust="spacingAndGlyphs">Chr10:&#160; 30,434,184 - 30,461,833</text>
</svg>
</body></html>
